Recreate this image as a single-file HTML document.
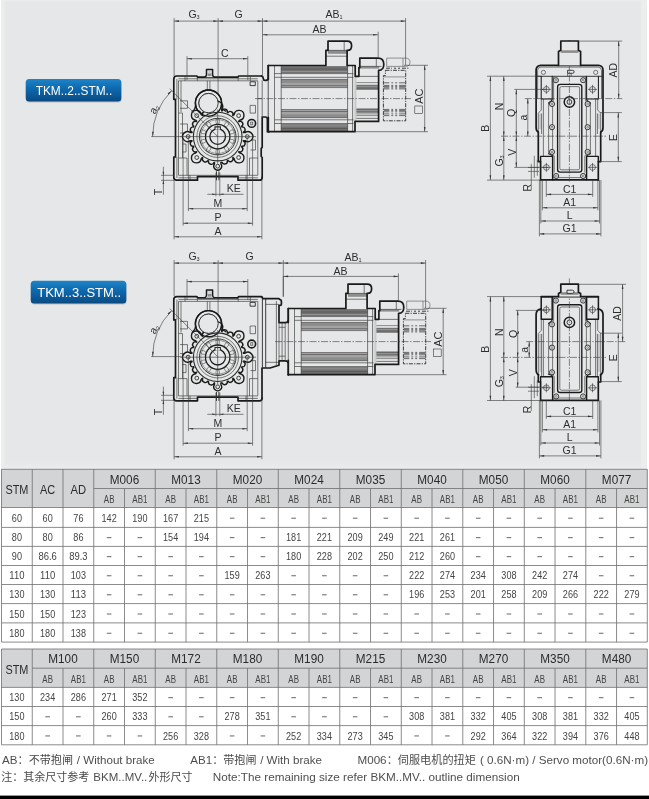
<!DOCTYPE html>
<html><head><meta charset="utf-8"><title>TKM..STM.. dimensions</title>
<style>
html,body{margin:0;padding:0;background:#fff}
body{width:649px;height:799px;overflow:hidden;position:relative;font-family:"Liberation Sans",sans-serif}
svg{position:absolute;left:0;top:0;display:block;will-change:transform}
text{font-family:"Liberation Sans",sans-serif}
.lb{fill:#2e2e2e}
.n{fill:none;stroke:#383838;stroke-width:.65}
.m{fill:none;stroke:#2a2a2a;stroke-width:.9}
.k{fill:none;stroke:#1a1a1a;stroke-width:1.7;stroke-linejoin:round;stroke-linecap:round}
.kf{fill:#e6e7e8;stroke:#1a1a1a;stroke-width:1.4;stroke-linejoin:round}
.nf{fill:#e6e7e8;stroke:#3c3c3c;stroke-width:.6}
.mf{fill:#e6e7e8;stroke:#2a2a2a;stroke-width:.9}
.d{fill:none;stroke:#383838;stroke-width:.6}
.c{fill:none;stroke:#3c3c3c;stroke-width:.6;stroke-dasharray:7 1.5 1.5 1.5}
.ar{fill:#333;stroke:none}
.dk{fill:none;stroke:#333;stroke-width:.95;stroke-dasharray:4 1.2 1.2 1.2}
.dn{fill:none;stroke:#555;stroke-width:.6}
.tg{fill:none;stroke:#6e6e6e;stroke-width:.8}
.tt{fill:#444}
.th{fill:#2b2b2b}
.cj{fill:#4a4a4a;stroke:none;font-family:"Liberation Sans","Noto Sans CJK SC",sans-serif}
.ft{fill:#4e4e4e}
</style></head>
<body>
<svg width="649" height="799" viewBox="0 0 649 799">
<defs>
<linearGradient id="bg1" x1="0" y1="0" x2="0" y2="1"><stop offset="0" stop-color="#1e84c8"/><stop offset=".45" stop-color="#0d68ad"/><stop offset="1" stop-color="#094a82"/></linearGradient>
<linearGradient id="pb" x1="0" y1="0" x2="0" y2="1"><stop offset="0" stop-color="#e6e7e8"/><stop offset="1" stop-color="#ecedee"/></linearGradient>
<linearGradient id="fin" x1="0" y1="0" x2="0" y2="1"><stop offset="0" stop-color="#777"/><stop offset="1" stop-color="#999"/></linearGradient>
</defs>
<rect class="bgp" x="1.3" y="0" width="645.6" height="469.4" />
<style>.bgp{fill:#e6e7e8}</style>
<rect class="bgl" x="641" y="0" width="5.9" height="469.4" />
<style>.bgl{fill:#eceded}</style>
<rect class="bgl" x="1.3" y="0" width="3.2" height="469.4" />
<rect x="4.5" y="462" width="636.5" height="7.4" fill="url(#pb)"/>
<rect class="bgl" x="1.3" y="0" width="645.6" height="1.3" />
<rect x="26" y="79.9" width="95.6" height="22.6" rx="3.5" fill="#9aa3ab" opacity=".55"/>
<rect x="25.7" y="78.9" width="95.6" height="22.6" rx="3.5" fill="url(#bg1)"/>
<text x="35.7" y="95.2" font-size="12.3" fill="#fff" textLength="76.5" lengthAdjust="spacingAndGlyphs">TKM..2..STM..</text>
<rect x="31" y="281.7" width="95.6" height="22.8" rx="3.5" fill="#9aa3ab" opacity=".55"/>
<rect x="30.7" y="280.7" width="95.6" height="22.8" rx="3.5" fill="url(#bg1)"/>
<text x="37.2" y="296.9" font-size="13.2" fill="#fff" textLength="84" lengthAdjust="spacingAndGlyphs">TKM..3..STM..</text>
<g transform="translate(0 0)">
<path class="n" d="M178.5 80.8H257.8V175.3H178.5Z" />
<path class="n" d="M176.9 79V99.3M176.9 157V178" />
<path class="n" d="M178.5 113H182.5V158" />
<path class="n" d="M178.5 158H187V175.3" />
<path class="n" d="M257.8 158H249.5V175.3" />
<path class="n" d="M181 80.8L181 112"/>
<path class="n" d="M180 100.8H187.5V108.3H180" />
<path class="n" d="M180 124H187.5V133H180" />
<path class="n" d="M182.3 144H186V152H182.3" />
<path class="n" d="M250.1 105.4H255.5V113.1H250.1Z" />
<path class="m" d="M250.1 81.8H255.3V85.6H250.1Z" />
<path class="n" d="M250.5 140H255.5V150H250.5" />
<path class="n" d="M185 76.2V80.8M197.3 77V80.8M238.2 77V80.8M250.3 76.2V80.8" />
<path class="n" d="M178.5 78.8L257.8 78.8"/>
<path class="n" d="M207.3 80.8V90.5M209.9 80.8V90.5" />
<path class="n" d="M178.5 177.8H197.5M238 177.8H257.8" />
<path class="n" d="M190 175.3V180.3M246 175.3V180.3" />
<path class="k" d="M261.6 76H238.7L237.7 77.2H197.8L196.8 76H176.8A3 3 0 0 0 173.8 79V99.3H175.5V157H173.8V177.3A2.9 2.9 0 0 0 176.7 180.2H197.5V176.6H238V180.2H259.4A2.8 2.8 0 0 0 262.2 177.4" />
<path class="kf" d="M204.6 77.2Q206.3 76.6 206.5 74.6V69.4H212.6V74.6Q212.8 76.6 214.4 77.2" style="stroke-width:1.5"/>
<rect class="lg" x="208.5" y="70.9" width="2.3" height="2.1" />
<rect class="gb" x="207.6" y="73.4" width="4" height="2.6" />
<circle class="kf" cx="251.7" cy="123.4" r="3.9" style="stroke-width:1.6"/>
<path class="n" d="M250.7 122H252.7V124.8H250.7Z" />
<circle class="kf" cx="208.5" cy="103.1" r="13.1" />
<circle class="mf" cx="208.5" cy="103.1" r="9.7" />
<path class="kf" d="M243.39 132.6L245.07 132.6A4.9 4.9 0 1 1 245.07 140.6L243.39 140.6L243.33 140.97A2.73 2.73 0 0 1 241.86 146.21L241.58 146.89A2.73 2.73 0 0 1 238.91 151.64L238.69 151.94L239.88 153.12A4.9 4.9 0 1 1 234.22 158.78L233.04 157.59L232.74 157.81A2.73 2.73 0 0 1 227.99 160.48L227.31 160.76A2.73 2.73 0 0 1 222.07 162.23L220.9 162.4L220.9 163.97A3.9 3.9 0 1 1 214.5 163.97L214.5 162.4L214.11 162.35A2.91 2.91 0 0 1 208.49 160.92L207.76 160.62A2.91 2.91 0 0 1 202.68 157.83L202.36 157.59L201.18 158.78A4.9 4.9 0 1 1 195.52 153.12L196.71 151.94L196.49 151.64A2.73 2.73 0 0 1 193.82 146.89L193.54 146.21A2.73 2.73 0 0 1 192.07 140.97L192.01 140.6L190.33 140.6A4.9 4.9 0 1 1 190.33 132.6L192.01 132.6L192.07 132.23A2.73 2.73 0 0 1 193.54 126.99L193.82 126.31A2.73 2.73 0 0 1 196.49 121.56L196.71 121.26L195.52 120.08A4.9 4.9 0 1 1 201.18 114.42L202.36 115.61L202.66 115.39A2.73 2.73 0 0 1 207.41 112.72L208.09 112.44A2.73 2.73 0 0 1 213.33 110.97L213.7 110.91L213.7 109.23A4.9 4.9 0 1 1 221.7 109.23L221.7 110.91L222.07 110.97A2.73 2.73 0 0 1 227.31 112.44L227.99 112.72A2.73 2.73 0 0 1 232.74 115.39L233.04 115.61L234.22 114.42A4.9 4.9 0 1 1 239.88 120.08L238.69 121.26L238.91 121.56A2.73 2.73 0 0 1 241.58 126.31L241.86 126.99A2.73 2.73 0 0 1 243.33 132.23Z" style="stroke-width:1.4"/>
<circle class="mf" cx="208.5" cy="103.1" r="9.7" />
<circle class="k" cx="208.5" cy="103.1" r="13.1" style="stroke-width:1.4"/>
<path class="k" d="M195.6 105.4Q195.4 109.5 192.2 111.6M221.4 105.4Q221.8 109.2 225.6 111.2" style="stroke-width:1.2"/>
<circle class="m" cx="247.3" cy="136.6" r="1.9" />
<circle class="m" cx="238.63" cy="157.53" r="1.9" />
<circle class="m" cx="217.7" cy="166.2" r="1.9" />
<circle class="m" cx="196.77" cy="157.53" r="1.9" />
<circle class="m" cx="188.1" cy="136.6" r="1.9" />
<circle class="m" cx="196.77" cy="115.67" r="1.9" />
<circle class="m" cx="238.63" cy="115.67" r="1.9" />
<circle class="m" cx="217.7" cy="136.6" r="24.3" style="stroke-width:1.1"/>
<circle class="n" cx="217.7" cy="136.6" r="20.8" />
<circle class="m" cx="217.7" cy="136.6" r="18.3" />
<circle class="n" cx="217.7" cy="136.6" r="16.9" style="stroke-width:.45"/>
<circle class="k" cx="217.7" cy="136.6" r="12.2" style="stroke-width:1.3"/>
<circle class="k" cx="217.7" cy="136.6" r="7.8" style="stroke-width:1.3"/>
<ellipse class="n" cx="232.2" cy="141.31" rx="1.8" ry="3.1" transform="rotate(108 232.2 141.31)" style="stroke-width:.5"/>
<ellipse class="n" cx="226.66" cy="148.94" rx="1.8" ry="3.1" transform="rotate(144 226.66 148.94)" style="stroke-width:.5"/>
<ellipse class="n" cx="217.7" cy="151.85" rx="1.8" ry="3.1" transform="rotate(180 217.7 151.85)" style="stroke-width:.5"/>
<ellipse class="n" cx="208.74" cy="148.94" rx="1.8" ry="3.1" transform="rotate(216 208.74 148.94)" style="stroke-width:.5"/>
<ellipse class="n" cx="203.2" cy="141.31" rx="1.8" ry="3.1" transform="rotate(252 203.2 141.31)" style="stroke-width:.5"/>
<ellipse class="n" cx="203.2" cy="131.89" rx="1.8" ry="3.1" transform="rotate(288 203.2 131.89)" style="stroke-width:.5"/>
<ellipse class="n" cx="208.74" cy="124.26" rx="1.8" ry="3.1" transform="rotate(324 208.74 124.26)" style="stroke-width:.5"/>
<ellipse class="n" cx="217.7" cy="121.35" rx="1.8" ry="3.1" transform="rotate(360 217.7 121.35)" style="stroke-width:.5"/>
<ellipse class="n" cx="226.66" cy="124.26" rx="1.8" ry="3.1" transform="rotate(396 226.66 124.26)" style="stroke-width:.5"/>
<ellipse class="n" cx="232.2" cy="131.89" rx="1.8" ry="3.1" transform="rotate(432 232.2 131.89)" style="stroke-width:.5"/>
<path class="mf" d="M215 129.6V126.9H220.4V129.6" style="stroke-width:1.1"/>
<path class="n" d="M180 136.6L256 136.6"/>
<path class="n" d="M217.7 109.6L217.7 163.6"/>
<path class="m" d="M216.5 171.4V180.3M218.9 171.4V180.3" />
</g>
<path class="k" d="M261.6 76.2Q263.2 76.4 263.3 78.6Q263.4 80.3 265 80.3H266Q268.3 80.3 268.3 78V65.5" />
<path class="k" d="M262.2 177.5V157.5L261.2 156.5V148.3L262.2 147.3V117H265.2Q267.4 117 267.4 119.2V131.7H269" />
<path class="n" d="M262.2 80.3V117M268.3 80.3V117" />
<path class="n" d="M257.8 98.6L262 98.6"/>
<g transform="translate(0 0)">
<style>.fb{fill:#8a8a8a;stroke:none}.fl{stroke:#4a4a4a;stroke-width:.5;fill:none}.gb{fill:#8d8d8d;stroke:none}.lg{fill:#c9cacb;stroke:none}</style>
<rect class="nf" x="268.3" y="65.3" width="86.5" height="66.4" style="stroke:none"/>
<style>.f1{fill:#727272;stroke:none}.f2{fill:#a2a2a2;stroke:none}.f3{fill:#8c8c8c;stroke:none}.fl{stroke:#4a4a4a;stroke-width:.6;fill:none}.fw{stroke:#b9b9b9;stroke-width:.5;fill:none}</style>
<rect class="f1" x="281.2" y="66.1" width="66.4" height="7.1" />
<rect class="f1" x="281.2" y="124.1" width="66.4" height="7.3" />
<path class="fw" d="M281.2 71.6L347.6 71.6"/>
<path class="fw" d="M281.2 125.8L347.6 125.8"/>
<path class="fl" d="M281.2 69L347.6 69"/>
<path class="fl" d="M281.2 128.6L347.6 128.6"/>
<rect class="f2" x="281.2" y="79.3" width="66.4" height="8.4" />
<rect class="f2" x="281.2" y="109.4" width="66.4" height="8.4" />
<rect class="f3" x="281.2" y="79.6" width="66.4" height="3.2" />
<rect class="f3" x="281.2" y="114.4" width="66.4" height="3.2" />
<path class="fl" d="M281.2 79.4L347.6 79.4"/>
<path class="fl" d="M281.2 85.7L347.6 85.7"/>
<path class="fl" d="M281.2 87.6L347.6 87.6"/>
<path class="fl" d="M281.2 109.5L347.6 109.5"/>
<path class="fl" d="M281.2 111.5L347.6 111.5"/>
<path class="fl" d="M281.2 117.7L347.6 117.7"/>
<path class="n" d="M274.5 73.6L353.4 73.6"/>
<path class="n" d="M274.5 77.3L353.4 77.3"/>
<path class="n" d="M274.5 119.8L353.4 119.8"/>
<path class="n" d="M274.5 123.5L353.4 123.5"/>
<path class="n" d="M274.5 65.3L274.5 131.7"/>
<path class="n" d="M281.2 65.3L281.2 131.7"/>
<path class="n" d="M347.6 65.3L347.6 131.7"/>
<path class="n" d="M352.6 65.3L352.6 131.7"/>
<rect class="nf" x="354.8" y="70" width="24" height="51.5" style="stroke:none"/>
<rect class="lg" x="354.4" y="76.7" width="2" height="44.8" />
<rect class="f1" x="356.4" y="84.8" width="22" height="4.5" />
<rect class="f1" x="356.4" y="108.9" width="22" height="3.9" />
<path class="fl" d="M356.4 82.6L378.4 82.6"/>
<path class="fl" d="M356.4 89.3L378.4 89.3"/>
<path class="fl" d="M356.4 108.9L378.4 108.9"/>
<path class="fl" d="M356.4 113.9L378.4 113.9"/>
<path class="fl" d="M356.4 115.6L378.4 115.6"/>
<path class="fw" d="M356.4 86.6L378.4 86.6"/>
<path class="fw" d="M356.4 110.6L378.4 110.6"/>
<path class="n" d="M358.6 76.4L378.4 76.4"/>
<path class="n" d="M356.4 118.4L378.4 118.4"/>
<rect class="gb" x="328" y="50.4" width="19.1" height="3.4" />
<path class="n" d="M325.9 56.2L347.1 56.2"/>
<path class="n" d="M344.2 41.1L344.2 50.4"/>
<path class="n" d="M328 50.4L347.1 50.4"/>
<rect class="gb" x="359.8" y="66.4" width="19.4" height="2.2" />
<path class="n" d="M376.3 58.1L376.3 66.4"/>
<path class="n" d="M359.8 66.4L381.5 66.4"/>
<path class="k" d="M268.3 65.5H325.9V50.4H328V41.1H347.3Q351.6 41.1 351.6 45.7Q351.6 50.4 347.3 50.4H347.1V65.5H355.2V76.3H358.9V67.6H359.8V58.1H378Q383.8 58.1 383.8 64.2Q383.8 70.3 378.6 70.3V121.4H355V131.7H268.3" />
<path class="k" d="M268.3 65.5V79.6M268.3 117.3V131.7" />
<path class="n" d="M268.3 79.6L268.3 117.3"/>
<path class="dk" d="M385.4 70.3H405.7V120.8H383.4V75.6H385.4V70.3" />
<path class="dn" d="M383.6 76.9L405.6 76.9"/>
<style>.fd{stroke:#6a6a6a;stroke-width:1.0;fill:none;stroke-dasharray:5.5 2 1.9 2 2 1.9 6.6 0}.fd2{stroke:#8a8a8a}</style>
<path class="fd" d="M383.8 82.8L405.7 82.8"/>
<path class="fd" d="M383.8 85.4L405.7 85.4"/>
<path class="fd" d="M383.8 86.6L405.7 86.6"/>
<path class="fd" d="M383.8 87.8L405.7 87.8"/>
<path class="fd" d="M383.8 88.9L405.7 88.9"/>
<path class="fd" d="M383.8 109.4L405.7 109.4"/>
<path class="fd" d="M383.8 110.6L405.7 110.6"/>
<path class="fd" d="M383.8 111.8L405.7 111.8"/>
<path class="fd" d="M383.8 113.9L405.7 113.9"/>
<path class="fd" d="M383.8 115.6L405.7 115.6"/>
<path class="dn" d="M386.7 66.4V58.1H405.6Q410 58.1 410 62.2Q410 66.4 405.6 66.4Z" />
<path class="dn" d="M403 58.1L403 66.4"/>
<path class="dk" d="M386 68.2H392M394 68.2H396M398 68.2H400M402 68.2H409" />
<path class="c" d="M255 98.6L411 98.6"/>
</g>
<path class="d" d="M174.1 18.1L174.1 76"/>
<path class="d" d="M218.1 18.1L218.1 94"/>
<path class="d" d="M262.5 18.1L262.5 76.5"/>
<path class="d" d="M174.1 21.1L218.1 21.1"/>
<path class="ar" d="M174.1 21.1L178.9 20.3L178.9 21.9Z"/>
<path class="ar" d="M218.1 21.1L213.3 21.9L213.3 20.3Z"/>
<path class="d" d="M218.1 21.1L262.5 21.1"/>
<path class="ar" d="M218.1 21.1L222.9 20.3L222.9 21.9Z"/>
<path class="ar" d="M262.5 21.1L257.7 21.9L257.7 20.3Z"/>
<text class="lb" x="194" y="17.8" font-size="10.5" text-anchor="middle" >G<tspan font-size="5.5" dy="1.2">3</tspan></text>
<text class="lb" x="238.6" y="17.8" font-size="10.5" text-anchor="middle" >G</text>
<path class="d" d="M262.5 21.1L405.6 21.1"/>
<path class="ar" d="M262.5 21.1L267.3 20.3L267.3 21.9Z"/>
<path class="ar" d="M405.6 21.1L400.8 21.9L400.8 20.3Z"/>
<path class="d" d="M262.5 34.8L377.9 34.8"/>
<path class="ar" d="M262.5 34.8L267.3 34L267.3 35.6Z"/>
<path class="ar" d="M377.9 34.8L373.1 35.6L373.1 34Z"/>
<path class="d" d="M187 56.2L187 80"/>
<path class="d" d="M247.8 56.2L247.8 80"/>
<path class="d" d="M187 58.7L247.8 58.7"/>
<path class="ar" d="M187 58.7L191.8 57.9L191.8 59.5Z"/>
<path class="ar" d="M247.8 58.7L243 59.5L243 57.9Z"/>
<text class="lb" x="224.7" y="57.1" font-size="10.5" text-anchor="middle" >C</text>
<path class="d" d="M152.7 136.6A65.0 65.0 0 0 1 171.74 90.64" />
<path class="ar" d="M152.7 136.6L152.07 131.78L153.67 131.83Z"/>
<path class="ar" d="M171.74 90.64L168.71 94.44L167.64 93.26Z"/>
<path class="d" d="M151.2 136.6L181 136.6"/>
<path class="d" d="M169.74 88.64L217.7 136.6"/>
<text class="lb" transform="translate(157.2 110.8) rotate(-62)" font-size="10.5" text-anchor="middle" >a<tspan font-size="5.5" dy="1.2">2</tspan></text>
<path class="d" d="M161 175.3L174 175.3"/>
<path class="d" d="M161 180.3L174 180.3"/>
<path class="d" d="M163.4 166.7L163.4 194.7"/>
<path class="ar" d="M163.4 175.3L162.6 171.7L164.2 171.7Z"/>
<path class="ar" d="M163.4 180.3L164.2 183.9L162.6 183.9Z"/>
<text class="lb" transform="translate(162.2 192) rotate(-90)" font-size="10.5" text-anchor="middle" >T</text>
<path class="d" d="M215.9 172.6L215.9 196.3"/>
<path class="d" d="M219.8 172.6L219.8 196.3"/>
<path class="d" d="M207.3 194.3L243.5 194.3"/>
<path class="ar" d="M215.9 194.3L212.3 195.1L212.3 193.5Z"/>
<path class="ar" d="M219.8 194.3L223.4 193.5L223.4 195.1Z"/>
<text class="lb" x="233.8" y="191.9" font-size="10.5" text-anchor="middle" >KE</text>
<path class="d" d="M188.4 136.6L188.4 211.2"/>
<path class="d" d="M247.2 136.6L247.2 211.2"/>
<path class="d" d="M188.4 208.7L247.2 208.7"/>
<path class="ar" d="M188.4 208.7L193.2 207.9L193.2 209.5Z"/>
<path class="ar" d="M247.2 208.7L242.4 209.5L242.4 207.9Z"/>
<text class="lb" x="217.9" y="207.1" font-size="10.5" text-anchor="middle" >M</text>
<path class="d" d="M183.1 138.6L183.1 225.7"/>
<path class="d" d="M252.6 138.6L252.6 225.7"/>
<path class="d" d="M183.1 223.2L252.6 223.2"/>
<path class="ar" d="M183.1 223.2L187.9 222.4L187.9 224Z"/>
<path class="ar" d="M252.6 223.2L247.8 224L247.8 222.4Z"/>
<text class="lb" x="217.9" y="221.4" font-size="10.5" text-anchor="middle" >P</text>
<path class="d" d="M174.1 180L174.1 239.3"/>
<path class="d" d="M261.9 180L261.9 239.3"/>
<path class="d" d="M174.1 236.8L261.9 236.8"/>
<path class="ar" d="M174.1 236.8L178.9 236L178.9 237.6Z"/>
<path class="ar" d="M261.9 236.8L257.1 237.6L257.1 236Z"/>
<text class="lb" x="217.9" y="235.2" font-size="10.5" text-anchor="middle" >A</text>
<path class="d" d="M405.6 18L405.6 65"/>
<path class="d" d="M378.2 31.8L378.2 57.5"/>
<text class="lb" x="334" y="18.2" font-size="10.5" text-anchor="middle" >AB<tspan font-size="5.5" dy="1.2">1</tspan></text>
<text class="lb" x="319.6" y="33.3" font-size="10.5" text-anchor="middle" >AB</text>
<path class="d" d="M404 65.3L428 65.3"/>
<path class="d" d="M356 131.7L428 131.7"/>
<path class="d" d="M424.7 65.3L424.7 131.7"/>
<path class="ar" d="M424.7 65.3L425.5 70.1L423.9 70.1Z"/>
<path class="ar" d="M424.7 131.7L423.9 126.9L425.5 126.9Z"/>
<text class="lb" transform="translate(423.2 96.2) rotate(-90)" font-size="11" text-anchor="middle" >AC</text>
<rect class="d" x="414.8" y="106" width="7.9" height="7.5" />
<g transform="translate(0 220.6)">
<path class="n" d="M178.5 80.8H257.8V175.3H178.5Z" />
<path class="n" d="M176.9 79V99.3M176.9 157V178" />
<path class="n" d="M178.5 113H182.5V158" />
<path class="n" d="M178.5 158H187V175.3" />
<path class="n" d="M257.8 158H249.5V175.3" />
<path class="n" d="M181 80.8L181 112"/>
<path class="n" d="M180 100.8H187.5V108.3H180" />
<path class="n" d="M180 124H187.5V133H180" />
<path class="n" d="M182.3 144H186V152H182.3" />
<path class="n" d="M250.1 105.4H255.5V113.1H250.1Z" />
<path class="m" d="M250.1 81.8H255.3V85.6H250.1Z" />
<path class="n" d="M250.5 140H255.5V150H250.5" />
<path class="n" d="M185 76.2V80.8M197.3 77V80.8M238.2 77V80.8M250.3 76.2V80.8" />
<path class="n" d="M178.5 78.8L257.8 78.8"/>
<path class="n" d="M207.3 80.8V90.5M209.9 80.8V90.5" />
<path class="n" d="M178.5 177.8H197.5M238 177.8H257.8" />
<path class="n" d="M190 175.3V180.3M246 175.3V180.3" />
<path class="k" d="M261.6 76H238.7L237.7 77.2H197.8L196.8 76H176.8A3 3 0 0 0 173.8 79V99.3H175.5V157H173.8V177.3A2.9 2.9 0 0 0 176.7 180.2H197.5V176.6H238V180.2H259.4A2.8 2.8 0 0 0 262.2 177.4" />
<path class="kf" d="M204.6 77.2Q206.3 76.6 206.5 74.6V69.4H212.6V74.6Q212.8 76.6 214.4 77.2" style="stroke-width:1.5"/>
<rect class="lg" x="208.5" y="70.9" width="2.3" height="2.1" />
<rect class="gb" x="207.6" y="73.4" width="4" height="2.6" />
<circle class="kf" cx="251.7" cy="123.4" r="3.9" style="stroke-width:1.6"/>
<path class="n" d="M250.7 122H252.7V124.8H250.7Z" />
<circle class="kf" cx="208.5" cy="103.1" r="13.1" />
<circle class="mf" cx="208.5" cy="103.1" r="9.7" />
<path class="kf" d="M243.39 132.6L245.07 132.6A4.9 4.9 0 1 1 245.07 140.6L243.39 140.6L243.33 140.97A2.73 2.73 0 0 1 241.86 146.21L241.58 146.89A2.73 2.73 0 0 1 238.91 151.64L238.69 151.94L239.88 153.12A4.9 4.9 0 1 1 234.22 158.78L233.04 157.59L232.74 157.81A2.73 2.73 0 0 1 227.99 160.48L227.31 160.76A2.73 2.73 0 0 1 222.07 162.23L220.9 162.4L220.9 163.97A3.9 3.9 0 1 1 214.5 163.97L214.5 162.4L214.11 162.35A2.91 2.91 0 0 1 208.49 160.92L207.76 160.62A2.91 2.91 0 0 1 202.68 157.83L202.36 157.59L201.18 158.78A4.9 4.9 0 1 1 195.52 153.12L196.71 151.94L196.49 151.64A2.73 2.73 0 0 1 193.82 146.89L193.54 146.21A2.73 2.73 0 0 1 192.07 140.97L192.01 140.6L190.33 140.6A4.9 4.9 0 1 1 190.33 132.6L192.01 132.6L192.07 132.23A2.73 2.73 0 0 1 193.54 126.99L193.82 126.31A2.73 2.73 0 0 1 196.49 121.56L196.71 121.26L195.52 120.08A4.9 4.9 0 1 1 201.18 114.42L202.36 115.61L202.66 115.39A2.73 2.73 0 0 1 207.41 112.72L208.09 112.44A2.73 2.73 0 0 1 213.33 110.97L213.7 110.91L213.7 109.23A4.9 4.9 0 1 1 221.7 109.23L221.7 110.91L222.07 110.97A2.73 2.73 0 0 1 227.31 112.44L227.99 112.72A2.73 2.73 0 0 1 232.74 115.39L233.04 115.61L234.22 114.42A4.9 4.9 0 1 1 239.88 120.08L238.69 121.26L238.91 121.56A2.73 2.73 0 0 1 241.58 126.31L241.86 126.99A2.73 2.73 0 0 1 243.33 132.23Z" style="stroke-width:1.4"/>
<circle class="mf" cx="208.5" cy="103.1" r="9.7" />
<circle class="k" cx="208.5" cy="103.1" r="13.1" style="stroke-width:1.4"/>
<path class="k" d="M195.6 105.4Q195.4 109.5 192.2 111.6M221.4 105.4Q221.8 109.2 225.6 111.2" style="stroke-width:1.2"/>
<circle class="m" cx="247.3" cy="136.6" r="1.9" />
<circle class="m" cx="238.63" cy="157.53" r="1.9" />
<circle class="m" cx="217.7" cy="166.2" r="1.9" />
<circle class="m" cx="196.77" cy="157.53" r="1.9" />
<circle class="m" cx="188.1" cy="136.6" r="1.9" />
<circle class="m" cx="196.77" cy="115.67" r="1.9" />
<circle class="m" cx="238.63" cy="115.67" r="1.9" />
<circle class="m" cx="217.7" cy="136.6" r="24.3" style="stroke-width:1.1"/>
<circle class="n" cx="217.7" cy="136.6" r="20.8" />
<circle class="m" cx="217.7" cy="136.6" r="18.3" />
<circle class="n" cx="217.7" cy="136.6" r="16.9" style="stroke-width:.45"/>
<circle class="k" cx="217.7" cy="136.6" r="12.2" style="stroke-width:1.3"/>
<circle class="k" cx="217.7" cy="136.6" r="7.8" style="stroke-width:1.3"/>
<ellipse class="n" cx="232.2" cy="141.31" rx="1.8" ry="3.1" transform="rotate(108 232.2 141.31)" style="stroke-width:.5"/>
<ellipse class="n" cx="226.66" cy="148.94" rx="1.8" ry="3.1" transform="rotate(144 226.66 148.94)" style="stroke-width:.5"/>
<ellipse class="n" cx="217.7" cy="151.85" rx="1.8" ry="3.1" transform="rotate(180 217.7 151.85)" style="stroke-width:.5"/>
<ellipse class="n" cx="208.74" cy="148.94" rx="1.8" ry="3.1" transform="rotate(216 208.74 148.94)" style="stroke-width:.5"/>
<ellipse class="n" cx="203.2" cy="141.31" rx="1.8" ry="3.1" transform="rotate(252 203.2 141.31)" style="stroke-width:.5"/>
<ellipse class="n" cx="203.2" cy="131.89" rx="1.8" ry="3.1" transform="rotate(288 203.2 131.89)" style="stroke-width:.5"/>
<ellipse class="n" cx="208.74" cy="124.26" rx="1.8" ry="3.1" transform="rotate(324 208.74 124.26)" style="stroke-width:.5"/>
<ellipse class="n" cx="217.7" cy="121.35" rx="1.8" ry="3.1" transform="rotate(360 217.7 121.35)" style="stroke-width:.5"/>
<ellipse class="n" cx="226.66" cy="124.26" rx="1.8" ry="3.1" transform="rotate(396 226.66 124.26)" style="stroke-width:.5"/>
<ellipse class="n" cx="232.2" cy="131.89" rx="1.8" ry="3.1" transform="rotate(432 232.2 131.89)" style="stroke-width:.5"/>
<path class="mf" d="M215 129.6V126.9H220.4V129.6" style="stroke-width:1.1"/>
<path class="n" d="M180 136.6L256 136.6"/>
<path class="n" d="M217.7 109.6L217.7 163.6"/>
<path class="m" d="M216.5 171.4V180.3M218.9 171.4V180.3" />
</g>
<g transform="translate(0 220.6)">
<path class="k" d="M261.6 76.2Q262.6 76.4 262.6 78H278.6Q279.6 78 280 79Q281.4 79.2 281.4 80.6V83.6Q281.4 84.8 280.2 84.8H279V102H285.3Q288.4 102 288.4 99.1V87.9" />
<path class="k" d="M262 177.5V147.4H270L279 144.6V140.3H285.3Q288.4 140.3 288.4 143.2V154.2" />
<path class="m" d="M262.4 78V147.2" />
<path class="m" d="M265.7 78V147.2" />
<path class="n" d="M276.4 80.5V145" />
<path class="n" d="M265.7 83.8H279M265.7 141.7H279" />
<path class="n" d="M279 102V140.3" />
<path class="n" d="M282.1 102V140.3M285.2 102V140.3" />
<path class="n" d="M279 106.7H285.2M279 135.6H285.2" />
</g>
<g transform="translate(20 243)">
<style>.fb{fill:#8a8a8a;stroke:none}.fl{stroke:#4a4a4a;stroke-width:.5;fill:none}.gb{fill:#8d8d8d;stroke:none}.lg{fill:#c9cacb;stroke:none}</style>
<rect class="nf" x="268.3" y="65.3" width="86.5" height="66.4" style="stroke:none"/>
<style>.f1{fill:#727272;stroke:none}.f2{fill:#a2a2a2;stroke:none}.f3{fill:#8c8c8c;stroke:none}.fl{stroke:#4a4a4a;stroke-width:.6;fill:none}.fw{stroke:#b9b9b9;stroke-width:.5;fill:none}</style>
<rect class="f1" x="281.2" y="66.1" width="66.4" height="7.1" />
<rect class="f1" x="281.2" y="124.1" width="66.4" height="7.3" />
<path class="fw" d="M281.2 71.6L347.6 71.6"/>
<path class="fw" d="M281.2 125.8L347.6 125.8"/>
<path class="fl" d="M281.2 69L347.6 69"/>
<path class="fl" d="M281.2 128.6L347.6 128.6"/>
<rect class="f2" x="281.2" y="79.3" width="66.4" height="8.4" />
<rect class="f2" x="281.2" y="109.4" width="66.4" height="8.4" />
<rect class="f3" x="281.2" y="79.6" width="66.4" height="3.2" />
<rect class="f3" x="281.2" y="114.4" width="66.4" height="3.2" />
<path class="fl" d="M281.2 79.4L347.6 79.4"/>
<path class="fl" d="M281.2 85.7L347.6 85.7"/>
<path class="fl" d="M281.2 87.6L347.6 87.6"/>
<path class="fl" d="M281.2 109.5L347.6 109.5"/>
<path class="fl" d="M281.2 111.5L347.6 111.5"/>
<path class="fl" d="M281.2 117.7L347.6 117.7"/>
<path class="n" d="M274.5 73.6L353.4 73.6"/>
<path class="n" d="M274.5 77.3L353.4 77.3"/>
<path class="n" d="M274.5 119.8L353.4 119.8"/>
<path class="n" d="M274.5 123.5L353.4 123.5"/>
<path class="n" d="M274.5 65.3L274.5 131.7"/>
<path class="n" d="M281.2 65.3L281.2 131.7"/>
<path class="n" d="M347.6 65.3L347.6 131.7"/>
<path class="n" d="M352.6 65.3L352.6 131.7"/>
<rect class="nf" x="354.8" y="70" width="24" height="51.5" style="stroke:none"/>
<rect class="lg" x="354.4" y="76.7" width="2" height="44.8" />
<rect class="f1" x="356.4" y="84.8" width="22" height="4.5" />
<rect class="f1" x="356.4" y="108.9" width="22" height="3.9" />
<path class="fl" d="M356.4 82.6L378.4 82.6"/>
<path class="fl" d="M356.4 89.3L378.4 89.3"/>
<path class="fl" d="M356.4 108.9L378.4 108.9"/>
<path class="fl" d="M356.4 113.9L378.4 113.9"/>
<path class="fl" d="M356.4 115.6L378.4 115.6"/>
<path class="fw" d="M356.4 86.6L378.4 86.6"/>
<path class="fw" d="M356.4 110.6L378.4 110.6"/>
<path class="n" d="M358.6 76.4L378.4 76.4"/>
<path class="n" d="M356.4 118.4L378.4 118.4"/>
<rect class="gb" x="328" y="50.4" width="19.1" height="3.4" />
<path class="n" d="M325.9 56.2L347.1 56.2"/>
<path class="n" d="M344.2 41.1L344.2 50.4"/>
<path class="n" d="M328 50.4L347.1 50.4"/>
<rect class="gb" x="359.8" y="66.4" width="19.4" height="2.2" />
<path class="n" d="M376.3 58.1L376.3 66.4"/>
<path class="n" d="M359.8 66.4L381.5 66.4"/>
<path class="k" d="M268.3 65.5H325.9V50.4H328V41.1H347.3Q351.6 41.1 351.6 45.7Q351.6 50.4 347.3 50.4H347.1V65.5H355.2V76.3H358.9V67.6H359.8V58.1H378Q383.8 58.1 383.8 64.2Q383.8 70.3 378.6 70.3V121.4H355V131.7H268.3" />
<path class="k" d="M268.3 65.5V79.6M268.3 117.3V131.7" />
<path class="n" d="M268.3 79.6L268.3 117.3"/>
<path class="dk" d="M385.4 70.3H405.7V120.8H383.4V75.6H385.4V70.3" />
<path class="dn" d="M383.6 76.9L405.6 76.9"/>
<style>.fd{stroke:#6a6a6a;stroke-width:1.0;fill:none;stroke-dasharray:5.5 2 1.9 2 2 1.9 6.6 0}.fd2{stroke:#8a8a8a}</style>
<path class="fd" d="M383.8 82.8L405.7 82.8"/>
<path class="fd" d="M383.8 85.4L405.7 85.4"/>
<path class="fd" d="M383.8 86.6L405.7 86.6"/>
<path class="fd" d="M383.8 87.8L405.7 87.8"/>
<path class="fd" d="M383.8 88.9L405.7 88.9"/>
<path class="fd" d="M383.8 109.4L405.7 109.4"/>
<path class="fd" d="M383.8 110.6L405.7 110.6"/>
<path class="fd" d="M383.8 111.8L405.7 111.8"/>
<path class="fd" d="M383.8 113.9L405.7 113.9"/>
<path class="fd" d="M383.8 115.6L405.7 115.6"/>
<path class="dn" d="M386.7 66.4V58.1H405.6Q410 58.1 410 62.2Q410 66.4 405.6 66.4Z" />
<path class="dn" d="M403 58.1L403 66.4"/>
<path class="dk" d="M386 68.2H392M394 68.2H396M398 68.2H400M402 68.2H409" />
<path class="c" d="M255 98.6L411 98.6"/>
</g>
<path class="d" d="M174.1 260.1L174.1 296"/>
<path class="d" d="M218.1 260.1L218.1 314"/>
<path class="d" d="M283.3 260.1L283.3 296.5"/>
<path class="d" d="M174.1 263.1L218.1 263.1"/>
<path class="ar" d="M174.1 263.1L178.9 262.3L178.9 263.9Z"/>
<path class="ar" d="M218.1 263.1L213.3 263.9L213.3 262.3Z"/>
<path class="d" d="M218.1 263.1L283.3 263.1"/>
<path class="ar" d="M218.1 263.1L222.9 262.3L222.9 263.9Z"/>
<path class="ar" d="M283.3 263.1L278.5 263.9L278.5 262.3Z"/>
<text class="lb" x="194" y="259.8" font-size="10.5" text-anchor="middle" >G<tspan font-size="5.5" dy="1.2">3</tspan></text>
<text class="lb" x="249.5" y="259.8" font-size="10.5" text-anchor="middle" >G</text>
<path class="d" d="M283.3 263.1L425.6 263.1"/>
<path class="ar" d="M283.3 263.1L288.1 262.3L288.1 263.9Z"/>
<path class="ar" d="M425.6 263.1L420.8 263.9L420.8 262.3Z"/>
<path class="d" d="M283.3 276.4L398.4 276.4"/>
<path class="ar" d="M283.3 276.4L288.1 275.6L288.1 277.2Z"/>
<path class="ar" d="M398.4 276.4L393.6 277.2L393.6 275.6Z"/>
<path class="d" d="M187 279.1L187 300"/>
<path class="d" d="M247.8 279.1L247.8 300"/>
<path class="d" d="M187 281.6L247.8 281.6"/>
<path class="ar" d="M187 281.6L191.8 280.8L191.8 282.4Z"/>
<path class="ar" d="M247.8 281.6L243 282.4L243 280.8Z"/>
<path class="d" d="M152.7 356.6A65.0 65.0 0 0 1 171.74 310.64" />
<path class="ar" d="M152.7 356.6L152.07 351.78L153.67 351.83Z"/>
<path class="ar" d="M171.74 310.64L168.71 314.44L167.64 313.26Z"/>
<path class="d" d="M151.2 356.6L181 356.6"/>
<path class="d" d="M169.74 308.64L217.7 356.6"/>
<text class="lb" transform="translate(157.2 330.8) rotate(-62)" font-size="10.5" text-anchor="middle" >a<tspan font-size="5.5" dy="1.2">2</tspan></text>
<path class="d" d="M161 395.3L174 395.3"/>
<path class="d" d="M161 400.3L174 400.3"/>
<path class="d" d="M163.4 386.7L163.4 414.7"/>
<path class="ar" d="M163.4 395.3L162.6 391.7L164.2 391.7Z"/>
<path class="ar" d="M163.4 400.3L164.2 403.9L162.6 403.9Z"/>
<text class="lb" transform="translate(162.2 412) rotate(-90)" font-size="10.5" text-anchor="middle" >T</text>
<path class="d" d="M215.9 392.6L215.9 416.3"/>
<path class="d" d="M219.8 392.6L219.8 416.3"/>
<path class="d" d="M207.3 414.3L243.5 414.3"/>
<path class="ar" d="M215.9 414.3L212.3 415.1L212.3 413.5Z"/>
<path class="ar" d="M219.8 414.3L223.4 413.5L223.4 415.1Z"/>
<text class="lb" x="233.8" y="411.9" font-size="10.5" text-anchor="middle" >KE</text>
<path class="d" d="M188.4 356.6L188.4 431.2"/>
<path class="d" d="M247.2 356.6L247.2 431.2"/>
<path class="d" d="M188.4 428.7L247.2 428.7"/>
<path class="ar" d="M188.4 428.7L193.2 427.9L193.2 429.5Z"/>
<path class="ar" d="M247.2 428.7L242.4 429.5L242.4 427.9Z"/>
<text class="lb" x="217.9" y="427.1" font-size="10.5" text-anchor="middle" >M</text>
<path class="d" d="M183.1 358.6L183.1 445.7"/>
<path class="d" d="M252.6 358.6L252.6 445.7"/>
<path class="d" d="M183.1 443.2L252.6 443.2"/>
<path class="ar" d="M183.1 443.2L187.9 442.4L187.9 444Z"/>
<path class="ar" d="M252.6 443.2L247.8 444L247.8 442.4Z"/>
<text class="lb" x="217.9" y="441.4" font-size="10.5" text-anchor="middle" >P</text>
<path class="d" d="M174.1 400L174.1 459.3"/>
<path class="d" d="M261.9 400L261.9 459.3"/>
<path class="d" d="M174.1 456.8L261.9 456.8"/>
<path class="ar" d="M174.1 456.8L178.9 456L178.9 457.6Z"/>
<path class="ar" d="M261.9 456.8L257.1 457.6L257.1 456Z"/>
<text class="lb" x="217.9" y="455.2" font-size="10.5" text-anchor="middle" >A</text>
<path class="d" d="M425.6 260L425.6 308"/>
<path class="d" d="M398.4 273.4L398.4 300.5"/>
<text class="lb" x="353" y="260.6" font-size="10.5" text-anchor="middle" >AB<tspan font-size="5.5" dy="1.2">1</tspan></text>
<text class="lb" x="340.6" y="275" font-size="10.5" text-anchor="middle" >AB</text>
<path class="d" d="M283.3 276.4L283.3 297"/>
<path class="d" d="M424 308.3L446.5 308.3"/>
<path class="d" d="M376 374.7L446.5 374.7"/>
<path class="d" d="M443.2 308.3L443.2 374.7"/>
<path class="ar" d="M443.2 308.3L444 313.1L442.4 313.1Z"/>
<path class="ar" d="M443.2 374.7L442.4 369.9L444 369.9Z"/>
<text class="lb" transform="translate(441.7 339.2) rotate(-90)" font-size="11" text-anchor="middle" >AC</text>
<rect class="d" x="433.3" y="349" width="7.9" height="7.5" />
<g transform="translate(0 0)">
<style>.gs{fill:#c4c6c8;stroke:none}</style>
<path class="k" d="M538.3000000000001 132.0Q536.1 131.0 536.1 127.4V69.80000000000001A4.4 4.4 0 0 1 540.5 65.4H598.6A4.4 4.4 0 0 1 603.0 69.80000000000001V127.4Q603.0 131.0 600.8 132.0" />
<path class="n" d="M537.6 99V70.5A3.4 3.4 0 0 1 541.0 67.1H598.1A3.4 3.4 0 0 1 601.5 70.5V99" />
<circle class="n" cx="543.4" cy="72.4" r="2.1" />
<circle class="n" cx="595.7" cy="72.4" r="2.1" />
<path class="m" d="M567.6 70.3H572.6A1.5 1.5 0 0 1 572.6 73.3H567.6Z" />
<path class="n" d="M567.6 73.3V76.3M571.2 73.3V76.3" />
<path class="m" d="M536.1 76.3L603 76.3"/>
<path class="n" d="M541.3 98.9V110L538.3 113.2V132.0" />
<path class="n" d="M597.7 98.9V110L600.7 113.2V132.0" />
<path class="k" d="M538.3 132.0V161.6H540.6V179.9" />
<path class="k" d="M600.7 132.0V161.6H598.3V179.9" />
<rect class="gs" x="539.2" y="113.5" width="2.3" height="15.5" />
<rect class="gs" x="597.5" y="113.5" width="2.3" height="15.5" />
<path class="n" d="M541.6 113.5V134.0M597.4 113.5V134.0" />
<path class="n" d="M543.4 99V156.4M595.6 99V156.4" />
<path class="n" d="M548.6 103V153.8M590.4 103V153.8" />
<path class="k" d="M541.2 76.3V98.9H552.2V76.3" style="stroke-width:1.05"/>
<path class="k" d="M598.4 76.3V98.9H586.6V76.3" style="stroke-width:1.05"/>
<path class="k" d="M552.2 98.9Q552.2 100.5 550.5 101.5L548.6 103M586.6 98.9Q586.6 100.5 588.3 101.5L590.4 103" style="stroke-width:1.2"/>
<path class="n" d="M553.6 76.3V99.5Q553.6 101 552.6 102V153Q552.6 155 554.2 156V172.5M585.4 76.3V99.5Q585.4 101 586.4 102V153Q586.4 155 584.8 156V172.5" />
<path class="k" d="M540.6 161.6V156.4H552.6V179.9" style="stroke-width:1.4"/>
<path class="k" d="M598.3 161.6V156.4H586.6V179.9" style="stroke-width:1.4"/>
<path class="k" d="M552.6 156.4Q552.6 155.2 551 154.6L548.6 153.8M586.6 156.4Q586.6 155.2 588.2 154.6L590.4 153.8" style="stroke-width:1.2"/>
<path class="k" d="M540.6 179.9L598.3 179.9"/>
<path class="n" d="M552.6 177.6L586.6 177.6"/>
<rect class="k" x="557.6" y="84.3" width="24.2" height="87.8" rx="2.6" style="stroke-width:1.35"/>
<rect class="n" x="559.8" y="86.6" width="19.8" height="83.2" rx="1.6"/>
<circle class="k" cx="569.4" cy="102" r="5.2" style="stroke-width:1.5"/>
<circle class="m" cx="569.4" cy="102" r="2.4" />
<circle class="mf" cx="555.9" cy="80.2" r="2.55" style="stroke-width:.95"/>
<circle class="n" cx="555.9" cy="80.2" r="0.9" style="stroke-width:.5"/>
<circle class="mf" cx="583.1" cy="80.2" r="2.55" style="stroke-width:.95"/>
<circle class="n" cx="583.1" cy="80.2" r="0.9" style="stroke-width:.5"/>
<circle class="mf" cx="552" cy="104" r="2.55" style="stroke-width:.95"/>
<circle class="n" cx="552" cy="104" r="0.9" style="stroke-width:.5"/>
<circle class="mf" cx="587.6" cy="104" r="2.55" style="stroke-width:.95"/>
<circle class="n" cx="587.6" cy="104" r="0.9" style="stroke-width:.5"/>
<circle class="mf" cx="552" cy="127.2" r="2.55" style="stroke-width:.95"/>
<circle class="n" cx="552" cy="127.2" r="0.9" style="stroke-width:.5"/>
<circle class="mf" cx="587.6" cy="127.2" r="2.55" style="stroke-width:.95"/>
<circle class="n" cx="587.6" cy="127.2" r="0.9" style="stroke-width:.5"/>
<circle class="mf" cx="552" cy="151.9" r="2.55" style="stroke-width:.95"/>
<circle class="n" cx="552" cy="151.9" r="0.9" style="stroke-width:.5"/>
<circle class="mf" cx="587.6" cy="151.9" r="2.55" style="stroke-width:.95"/>
<circle class="n" cx="587.6" cy="151.9" r="0.9" style="stroke-width:.5"/>
<circle class="mf" cx="556.2" cy="176" r="2.55" style="stroke-width:.95"/>
<circle class="n" cx="556.2" cy="176" r="0.9" style="stroke-width:.5"/>
<circle class="mf" cx="583.1" cy="176" r="2.55" style="stroke-width:.95"/>
<circle class="n" cx="583.1" cy="176" r="0.9" style="stroke-width:.5"/>
<circle class="n" cx="546.4" cy="89.4" r="2.9" />
<path class="n" d="M541.9 89.4L550.9 89.4"/>
<path class="n" d="M546.4 84.9L546.4 93.9"/>
<circle class="n" cx="546.4" cy="167.4" r="2.9" />
<path class="n" d="M541.9 167.4L550.9 167.4"/>
<path class="n" d="M546.4 162.9L546.4 171.9"/>
<circle class="n" cx="592.5" cy="89.4" r="2.9" />
<path class="n" d="M588 89.4L597 89.4"/>
<path class="n" d="M592.5 84.9L592.5 93.9"/>
<circle class="n" cx="592.5" cy="167.4" r="2.9" />
<path class="n" d="M588 167.4L597 167.4"/>
<path class="n" d="M592.5 162.9L592.5 171.9"/>
<path class="c" d="M569.4 40L569.4 181.5"/>
</g>
<rect class="nf" x="560.8" y="41" width="17.6" height="9.3" style="stroke:none"/>
<rect class="nf" x="558.5" y="50.3" width="22" height="15.1" style="stroke:none"/>
<rect class="gb" x="560.8" y="50.3" width="17.6" height="2.6" />
<path class="k" d="M558.5 65.4V51.6L560.8 50.3V41H578.4V50.3L580.6 51.6V65.4" />
<path class="d" d="M487 76.2L541 76.2"/>
<path class="d" d="M487 180.1L541 180.1"/>
<path class="d" d="M490.4 76.2L490.4 180.1"/>
<path class="ar" d="M490.4 76.2L491.2 81L489.6 81Z"/>
<path class="ar" d="M490.4 180.1L489.6 175.3L491.2 175.3Z"/>
<text class="lb" transform="translate(489.4 128.15) rotate(-90)" font-size="10.5" text-anchor="middle" >B</text>
<path class="d" d="M503.8 76.2L503.8 136.2"/>
<path class="ar" d="M503.8 76.2L504.6 81L503 81Z"/>
<path class="ar" d="M503.8 136.2L503 131.4L504.6 131.4Z"/>
<path class="d" d="M503.8 136.2L503.8 180.1"/>
<path class="ar" d="M503.8 136.2L504.6 141L503 141Z"/>
<path class="ar" d="M503.8 180.1L503 175.3L504.6 175.3Z"/>
<text class="lb" transform="translate(503 106.4) rotate(-90)" font-size="10.5" text-anchor="middle" >N</text>
<text class="lb" transform="translate(503 160.95) rotate(-90)" font-size="10.5" text-anchor="middle">G<tspan font-size="5.5" dy="1.2">3</tspan></text>
<path class="d" d="M514.3 89.4L547 89.4"/>
<path class="d" d="M516.3 89.4L516.3 136.2"/>
<path class="ar" d="M516.3 89.4L517.1 94.2L515.5 94.2Z"/>
<path class="ar" d="M516.3 136.2L515.5 131.4L517.1 131.4Z"/>
<text class="lb" transform="translate(515.3 112.8) rotate(-90)" font-size="10.5" text-anchor="middle" >Q</text>
<path class="d" d="M514.3 167.4L548 167.4"/>
<path class="d" d="M516.3 136.2L516.3 167.4"/>
<path class="ar" d="M516.3 136.2L517.1 141L515.5 141Z"/>
<path class="ar" d="M516.3 167.4L515.5 162.6L517.1 162.6Z"/>
<text class="lb" transform="translate(515.5 152.3) rotate(-90)" font-size="10.5" text-anchor="middle" >V</text>
<path class="d" d="M527.8 98.6L527.8 136.2"/>
<path class="ar" d="M527.8 98.6L528.6 103.4L527 103.4Z"/>
<path class="ar" d="M527.8 136.2L527 131.4L528.6 131.4Z"/>
<text class="lb" transform="translate(526.6 117.7) rotate(-90)" font-size="10.5" text-anchor="middle" >a</text>
<path class="c" d="M501 136.2L606 136.2"/>
<path class="c" d="M524.8 98.6L622.2 98.6"/>
<path class="d" d="M531.3 163.8L531.3 190.5"/>
<path class="d" d="M534.3 155.8L534.3 177.8"/>
<path class="d" d="M537.3 159.8L537.3 175.8"/>
<path class="d" d="M528 167.4L539 167.4"/>
<path class="d" d="M528 171.4L539 171.4"/>
<text class="lb" transform="translate(530.8 187.6) rotate(-90)" font-size="10.5" text-anchor="middle" >R</text>
<path class="d" d="M578.5 41.1L622.2 41.1"/>
<path class="d" d="M618.7 41.1L618.7 98.6"/>
<path class="ar" d="M618.7 41.1L619.5 45.9L617.9 45.9Z"/>
<path class="ar" d="M618.7 98.6L617.9 93.8L619.5 93.8Z"/>
<text class="lb" transform="translate(617.4 70.25) rotate(-90)" font-size="10.5" text-anchor="middle" >AD</text>
<path class="d" d="M600 112.6L621.8 112.6"/>
<path class="d" d="M600 161.6L621.8 161.6"/>
<path class="d" d="M618.3 112.6L618.3 161.6"/>
<path class="ar" d="M618.3 112.6L619.1 117.4L617.5 117.4Z"/>
<path class="ar" d="M618.3 161.6L617.5 156.8L619.1 156.8Z"/>
<text class="lb" transform="translate(617.3 137.4) rotate(-90)" font-size="10.5" text-anchor="middle" >E</text>
<path class="d" d="M546.3 180L546.3 196.9"/>
<path class="d" d="M592.7 180L592.7 196.9"/>
<path class="d" d="M546.3 194.4L592.7 194.4"/>
<path class="ar" d="M546.3 194.4L551.1 193.6L551.1 195.2Z"/>
<path class="ar" d="M592.7 194.4L587.9 195.2L587.9 193.6Z"/>
<text class="lb" x="569.6" y="192.7" font-size="10.5" text-anchor="middle" >C1</text>
<path class="d" d="M542.4 180L542.4 210.3"/>
<path class="d" d="M597.9 180L597.9 210.3"/>
<path class="d" d="M542.4 207.8L597.9 207.8"/>
<path class="ar" d="M542.4 207.8L547.2 207L547.2 208.6Z"/>
<path class="ar" d="M597.9 207.8L593.1 208.6L593.1 207Z"/>
<text class="lb" x="569.6" y="206.1" font-size="10.5" text-anchor="middle" >A1</text>
<path class="d" d="M540.8 180L540.8 223.5"/>
<path class="d" d="M599.5 180L599.5 223.5"/>
<path class="d" d="M540.8 221L599.5 221"/>
<path class="ar" d="M540.8 221L545.6 220.2L545.6 221.8Z"/>
<path class="ar" d="M599.5 221L594.7 221.8L594.7 220.2Z"/>
<text class="lb" x="569.6" y="219.3" font-size="10.5" text-anchor="middle" >L</text>
<path class="d" d="M539.4 180L539.4 236.4"/>
<path class="d" d="M600.9 180L600.9 236.4"/>
<path class="d" d="M539.4 233.9L600.9 233.9"/>
<path class="ar" d="M539.4 233.9L544.2 233.1L544.2 234.7Z"/>
<path class="ar" d="M600.9 233.9L596.1 234.7L596.1 233.1Z"/>
<text class="lb" x="569.6" y="232.2" font-size="10.5" text-anchor="middle" >G1</text>
<g transform="translate(0 220.4)">
<style>.gs{fill:#c4c6c8;stroke:none}</style>
<path class="k" d="M541.2 88.5Q536.1 89.2 536.1 94.2V148.9Q536.1 153.4 538.6 154.4" />
<path class="k" d="M597.8 88.5Q603.0 89.2 603.0 94.2V148.9Q603.0 153.4 600.5 154.4" />
<path class="n" d="M541.3 98.9V110L538.3 113.2V154.4" />
<path class="n" d="M597.7 98.9V110L600.7 113.2V154.4" />
<path class="k" d="M538.3 154.4V161.6H540.6V179.9" />
<path class="k" d="M600.7 154.4V161.6H598.3V179.9" />
<rect class="gs" x="539.2" y="113.5" width="2.3" height="37.9" />
<rect class="gs" x="597.5" y="113.5" width="2.3" height="37.9" />
<path class="n" d="M541.6 113.5V156.4M597.4 113.5V156.4" />
<path class="n" d="M543.4 99V156.4M595.6 99V156.4" />
<path class="n" d="M548.6 103V153.8M590.4 103V153.8" />
<path class="k" d="M541.2 76.3V98.9H552.2V76.3Z" style="stroke-width:1.5"/>
<path class="k" d="M598.4 76.3V98.9H586.6V76.3Z" style="stroke-width:1.5"/>
<path class="k" d="M541.2 76.3L598.4 76.3"/>
<path class="k" d="M552.2 98.9Q552.2 100.5 550.5 101.5L548.6 103M586.6 98.9Q586.6 100.5 588.3 101.5L590.4 103" style="stroke-width:1.2"/>
<path class="n" d="M553.6 76.3V99.5Q553.6 101 552.6 102V153Q552.6 155 554.2 156V172.5M585.4 76.3V99.5Q585.4 101 586.4 102V153Q586.4 155 584.8 156V172.5" />
<path class="k" d="M540.6 161.6V156.4H552.6V179.9" style="stroke-width:1.4"/>
<path class="k" d="M598.3 161.6V156.4H586.6V179.9" style="stroke-width:1.4"/>
<path class="k" d="M552.6 156.4Q552.6 155.2 551 154.6L548.6 153.8M586.6 156.4Q586.6 155.2 588.2 154.6L590.4 153.8" style="stroke-width:1.2"/>
<path class="k" d="M540.6 179.9L598.3 179.9"/>
<path class="n" d="M552.6 177.6L586.6 177.6"/>
<rect class="k" x="557.6" y="84.3" width="24.2" height="87.8" rx="2.6" style="stroke-width:1.35"/>
<rect class="n" x="559.8" y="86.6" width="19.8" height="83.2" rx="1.6"/>
<circle class="k" cx="569.4" cy="102" r="5.2" style="stroke-width:1.5"/>
<circle class="m" cx="569.4" cy="102" r="2.4" />
<circle class="mf" cx="555.9" cy="80.2" r="2.55" style="stroke-width:.95"/>
<circle class="n" cx="555.9" cy="80.2" r="0.9" style="stroke-width:.5"/>
<circle class="mf" cx="583.1" cy="80.2" r="2.55" style="stroke-width:.95"/>
<circle class="n" cx="583.1" cy="80.2" r="0.9" style="stroke-width:.5"/>
<circle class="mf" cx="552" cy="104" r="2.55" style="stroke-width:.95"/>
<circle class="n" cx="552" cy="104" r="0.9" style="stroke-width:.5"/>
<circle class="mf" cx="587.6" cy="104" r="2.55" style="stroke-width:.95"/>
<circle class="n" cx="587.6" cy="104" r="0.9" style="stroke-width:.5"/>
<circle class="mf" cx="552" cy="127.2" r="2.55" style="stroke-width:.95"/>
<circle class="n" cx="552" cy="127.2" r="0.9" style="stroke-width:.5"/>
<circle class="mf" cx="587.6" cy="127.2" r="2.55" style="stroke-width:.95"/>
<circle class="n" cx="587.6" cy="127.2" r="0.9" style="stroke-width:.5"/>
<circle class="mf" cx="552" cy="151.9" r="2.55" style="stroke-width:.95"/>
<circle class="n" cx="552" cy="151.9" r="0.9" style="stroke-width:.5"/>
<circle class="mf" cx="587.6" cy="151.9" r="2.55" style="stroke-width:.95"/>
<circle class="n" cx="587.6" cy="151.9" r="0.9" style="stroke-width:.5"/>
<circle class="mf" cx="556.2" cy="176" r="2.55" style="stroke-width:.95"/>
<circle class="n" cx="556.2" cy="176" r="0.9" style="stroke-width:.5"/>
<circle class="mf" cx="583.1" cy="176" r="2.55" style="stroke-width:.95"/>
<circle class="n" cx="583.1" cy="176" r="0.9" style="stroke-width:.5"/>
<circle class="n" cx="546.4" cy="89.4" r="2.9" />
<path class="n" d="M541.9 89.4L550.9 89.4"/>
<path class="n" d="M546.4 84.9L546.4 93.9"/>
<circle class="n" cx="546.4" cy="167.4" r="2.9" />
<path class="n" d="M541.9 167.4L550.9 167.4"/>
<path class="n" d="M546.4 162.9L546.4 171.9"/>
<circle class="n" cx="592.5" cy="89.4" r="2.9" />
<path class="n" d="M588 89.4L597 89.4"/>
<path class="n" d="M592.5 84.9L592.5 93.9"/>
<circle class="n" cx="592.5" cy="167.4" r="2.9" />
<path class="n" d="M588 167.4L597 167.4"/>
<path class="n" d="M592.5 162.9L592.5 171.9"/>
<path class="c" d="M569.4 58L569.4 181.5"/>
</g>
<rect class="nf" x="560.8" y="284.2" width="17.6" height="8" style="stroke:none"/>
<rect class="nf" x="558.5" y="292.2" width="22" height="4.4" style="stroke:none"/>
<rect class="gb" x="560.8" y="292.2" width="17.6" height="2.6" />
<path class="k" d="M558.5 296.6V293.5L560.8 292.2V284.2H578.4V292.2L580.6 293.5V296.6" />
<path class="mf" d="M567 290.2H572.4A1.6 1.6 0 0 1 572.4 293.4H567Z" />
<path class="d" d="M487 296.6L541 296.6"/>
<path class="d" d="M487 400.5L541 400.5"/>
<path class="d" d="M490.4 296.6L490.4 400.5"/>
<path class="ar" d="M490.4 296.6L491.2 301.4L489.6 301.4Z"/>
<path class="ar" d="M490.4 400.5L489.6 395.7L491.2 395.7Z"/>
<text class="lb" transform="translate(489.4 349.15) rotate(-90)" font-size="10.5" text-anchor="middle" >B</text>
<path class="d" d="M503.8 296.6L503.8 357.4"/>
<path class="ar" d="M503.8 296.6L504.6 301.4L503 301.4Z"/>
<path class="ar" d="M503.8 357.4L503 352.6L504.6 352.6Z"/>
<path class="d" d="M503.8 357.4L503.8 400.5"/>
<path class="ar" d="M503.8 357.4L504.6 362.2L503 362.2Z"/>
<path class="ar" d="M503.8 400.5L503 395.7L504.6 395.7Z"/>
<text class="lb" transform="translate(503 332.2) rotate(-90)" font-size="10.5" text-anchor="middle" >N</text>
<text class="lb" transform="translate(503 381.75) rotate(-90)" font-size="10.5" text-anchor="middle">G<tspan font-size="5.5" dy="1.2">3</tspan></text>
<path class="d" d="M515.7 310.4L547 310.4"/>
<path class="d" d="M517.7 310.4L517.7 357.4"/>
<path class="ar" d="M517.7 310.4L518.5 315.2L516.9 315.2Z"/>
<path class="ar" d="M517.7 357.4L516.9 352.6L518.5 352.6Z"/>
<text class="lb" transform="translate(516.7 333.9) rotate(-90)" font-size="10.5" text-anchor="middle" >Q</text>
<path class="d" d="M515.7 387.2L548 387.2"/>
<path class="d" d="M517.7 357.4L517.7 387.2"/>
<path class="ar" d="M517.7 357.4L518.5 362.2L516.9 362.2Z"/>
<path class="ar" d="M517.7 387.2L516.9 382.4L518.5 382.4Z"/>
<text class="lb" transform="translate(516.9 372.8) rotate(-90)" font-size="10.5" text-anchor="middle" >V</text>
<path class="d" d="M529.2 341.6L529.2 357.4"/>
<path class="ar" d="M529.2 341.6L530 346.4L528.4 346.4Z"/>
<path class="ar" d="M529.2 357.4L528.4 352.6L530 352.6Z"/>
<text class="lb" transform="translate(528 349.8) rotate(-90)" font-size="10.5" text-anchor="middle" >a</text>
<path class="c" d="M501 357.4L606 357.4"/>
<path class="c" d="M526.2 341.6L626.1 341.6"/>
<path class="d" d="M531.3 384.2L531.3 410.9"/>
<path class="d" d="M534.3 376.2L534.3 398.2"/>
<path class="d" d="M537.3 380.2L537.3 396.2"/>
<path class="d" d="M528 387.2L539 387.2"/>
<path class="d" d="M528 391.2L539 391.2"/>
<text class="lb" transform="translate(530.8 409.5) rotate(-90)" font-size="10.5" text-anchor="middle" >R</text>
<path class="d" d="M578.5 284.3L626.1 284.3"/>
<path class="d" d="M622.6 284.3L622.6 341.6"/>
<path class="ar" d="M622.6 284.3L623.4 289.1L621.8 289.1Z"/>
<path class="ar" d="M622.6 341.6L621.8 336.8L623.4 336.8Z"/>
<text class="lb" transform="translate(621.3 313.35) rotate(-90)" font-size="10.5" text-anchor="middle" >AD</text>
<path class="d" d="M600 333.2L621.8 333.2"/>
<path class="d" d="M600 381.6L621.8 381.6"/>
<path class="d" d="M618.3 333.2L618.3 381.6"/>
<path class="ar" d="M618.3 333.2L619.1 338L617.5 338Z"/>
<path class="ar" d="M618.3 381.6L617.5 376.8L619.1 376.8Z"/>
<text class="lb" transform="translate(617.3 357.7) rotate(-90)" font-size="10.5" text-anchor="middle" >E</text>
<path class="d" d="M546.3 400.4L546.3 418.9"/>
<path class="d" d="M592.7 400.4L592.7 418.9"/>
<path class="d" d="M546.3 416.4L592.7 416.4"/>
<path class="ar" d="M546.3 416.4L551.1 415.6L551.1 417.2Z"/>
<path class="ar" d="M592.7 416.4L587.9 417.2L587.9 415.6Z"/>
<text class="lb" x="569.6" y="414.7" font-size="10.5" text-anchor="middle" >C1</text>
<path class="d" d="M542.4 400.4L542.4 432.3"/>
<path class="d" d="M597.9 400.4L597.9 432.3"/>
<path class="d" d="M542.4 429.8L597.9 429.8"/>
<path class="ar" d="M542.4 429.8L547.2 429L547.2 430.6Z"/>
<path class="ar" d="M597.9 429.8L593.1 430.6L593.1 429Z"/>
<text class="lb" x="569.6" y="428.1" font-size="10.5" text-anchor="middle" >A1</text>
<path class="d" d="M540.8 400.4L540.8 445.5"/>
<path class="d" d="M599.5 400.4L599.5 445.5"/>
<path class="d" d="M540.8 443L599.5 443"/>
<path class="ar" d="M540.8 443L545.6 442.2L545.6 443.8Z"/>
<path class="ar" d="M599.5 443L594.7 443.8L594.7 442.2Z"/>
<text class="lb" x="569.6" y="441.3" font-size="10.5" text-anchor="middle" >L</text>
<path class="d" d="M539.4 400.4L539.4 458.4"/>
<path class="d" d="M600.9 400.4L600.9 458.4"/>
<path class="d" d="M539.4 455.9L600.9 455.9"/>
<path class="ar" d="M539.4 455.9L544.2 455.1L544.2 456.7Z"/>
<path class="ar" d="M600.9 455.9L596.1 456.7L596.1 455.1Z"/>
<text class="lb" x="569.6" y="454.2" font-size="10.5" text-anchor="middle" >G1</text>
<style>.hbg{fill:#d3d4d6}.wbg{fill:#fff}</style>
<rect class="hbg" x="1.5" y="469.3" width="645.8" height="38.2" />
<rect class="wbg" x="1.5" y="507.5" width="645.8" height="134.6" />
<path class="tg" d="M1.5 469.3L647.3 469.3"/>
<path class="tg" d="M93.76 488.5L647.3 488.5"/>
<path class="tg" d="M1.5 507.5L647.3 507.5"/>
<path class="tg" d="M1.5 527.4L647.3 527.4"/>
<path class="tg" d="M1.5 546.4L647.3 546.4"/>
<path class="tg" d="M1.5 565.5L647.3 565.5"/>
<path class="tg" d="M1.5 584.5L647.3 584.5"/>
<path class="tg" d="M1.5 603.6L647.3 603.6"/>
<path class="tg" d="M1.5 622.9L647.3 622.9"/>
<path class="tg" d="M1.5 642.1L647.3 642.1"/>
<path class="tg" d="M1.5 469.3L1.5 642.1"/>
<path class="tg" d="M32.25 469.3L32.25 642.1"/>
<path class="tg" d="M63 469.3L63 642.1"/>
<path class="tg" d="M93.76 469.3L93.76 642.1"/>
<path class="tg" d="M124.51 488.5L124.51 642.1"/>
<path class="tg" d="M155.26 469.3L155.26 642.1"/>
<path class="tg" d="M186.01 488.5L186.01 642.1"/>
<path class="tg" d="M216.77 469.3L216.77 642.1"/>
<path class="tg" d="M247.52 488.5L247.52 642.1"/>
<path class="tg" d="M278.27 469.3L278.27 642.1"/>
<path class="tg" d="M309.02 488.5L309.02 642.1"/>
<path class="tg" d="M339.78 469.3L339.78 642.1"/>
<path class="tg" d="M370.53 488.5L370.53 642.1"/>
<path class="tg" d="M401.28 469.3L401.28 642.1"/>
<path class="tg" d="M432.03 488.5L432.03 642.1"/>
<path class="tg" d="M462.79 469.3L462.79 642.1"/>
<path class="tg" d="M493.54 488.5L493.54 642.1"/>
<path class="tg" d="M524.29 469.3L524.29 642.1"/>
<path class="tg" d="M555.04 488.5L555.04 642.1"/>
<path class="tg" d="M585.8 469.3L585.8 642.1"/>
<path class="tg" d="M616.55 488.5L616.55 642.1"/>
<path class="tg" d="M647.3 469.3L647.3 642.1"/>
<text class="th" x="16.88" y="494.2" font-size="12" text-anchor="middle" textLength="23" lengthAdjust="spacingAndGlyphs">STM</text>
<text class="th" x="47.63" y="494.2" font-size="12" text-anchor="middle" textLength="15.2" lengthAdjust="spacingAndGlyphs">AC</text>
<text class="th" x="78.38" y="494.2" font-size="12" text-anchor="middle" textLength="15.6" lengthAdjust="spacingAndGlyphs">AD</text>
<text class="th" x="124.51" y="483.7" font-size="12" text-anchor="middle" textLength="29.4" lengthAdjust="spacingAndGlyphs">M006</text>
<text class="tt" x="109.13" y="503.1" font-size="10.5" text-anchor="middle" textLength="10.6" lengthAdjust="spacingAndGlyphs">AB</text>
<text class="tt" x="139.89" y="503.1" font-size="10.5" text-anchor="middle" textLength="15.1" lengthAdjust="spacingAndGlyphs">AB1</text>
<text class="th" x="186.01" y="483.7" font-size="12" text-anchor="middle" textLength="29.4" lengthAdjust="spacingAndGlyphs">M013</text>
<text class="tt" x="170.64" y="503.1" font-size="10.5" text-anchor="middle" textLength="10.6" lengthAdjust="spacingAndGlyphs">AB</text>
<text class="tt" x="201.39" y="503.1" font-size="10.5" text-anchor="middle" textLength="15.1" lengthAdjust="spacingAndGlyphs">AB1</text>
<text class="th" x="247.52" y="483.7" font-size="12" text-anchor="middle" textLength="29.4" lengthAdjust="spacingAndGlyphs">M020</text>
<text class="tt" x="232.14" y="503.1" font-size="10.5" text-anchor="middle" textLength="10.6" lengthAdjust="spacingAndGlyphs">AB</text>
<text class="tt" x="262.9" y="503.1" font-size="10.5" text-anchor="middle" textLength="15.1" lengthAdjust="spacingAndGlyphs">AB1</text>
<text class="th" x="309.02" y="483.7" font-size="12" text-anchor="middle" textLength="29.4" lengthAdjust="spacingAndGlyphs">M024</text>
<text class="tt" x="293.65" y="503.1" font-size="10.5" text-anchor="middle" textLength="10.6" lengthAdjust="spacingAndGlyphs">AB</text>
<text class="tt" x="324.4" y="503.1" font-size="10.5" text-anchor="middle" textLength="15.1" lengthAdjust="spacingAndGlyphs">AB1</text>
<text class="th" x="370.53" y="483.7" font-size="12" text-anchor="middle" textLength="29.4" lengthAdjust="spacingAndGlyphs">M035</text>
<text class="tt" x="355.15" y="503.1" font-size="10.5" text-anchor="middle" textLength="10.6" lengthAdjust="spacingAndGlyphs">AB</text>
<text class="tt" x="385.9" y="503.1" font-size="10.5" text-anchor="middle" textLength="15.1" lengthAdjust="spacingAndGlyphs">AB1</text>
<text class="th" x="432.03" y="483.7" font-size="12" text-anchor="middle" textLength="29.4" lengthAdjust="spacingAndGlyphs">M040</text>
<text class="tt" x="416.66" y="503.1" font-size="10.5" text-anchor="middle" textLength="10.6" lengthAdjust="spacingAndGlyphs">AB</text>
<text class="tt" x="447.41" y="503.1" font-size="10.5" text-anchor="middle" textLength="15.1" lengthAdjust="spacingAndGlyphs">AB1</text>
<text class="th" x="493.54" y="483.7" font-size="12" text-anchor="middle" textLength="29.4" lengthAdjust="spacingAndGlyphs">M050</text>
<text class="tt" x="478.16" y="503.1" font-size="10.5" text-anchor="middle" textLength="10.6" lengthAdjust="spacingAndGlyphs">AB</text>
<text class="tt" x="508.91" y="503.1" font-size="10.5" text-anchor="middle" textLength="15.1" lengthAdjust="spacingAndGlyphs">AB1</text>
<text class="th" x="555.04" y="483.7" font-size="12" text-anchor="middle" textLength="29.4" lengthAdjust="spacingAndGlyphs">M060</text>
<text class="tt" x="539.67" y="503.1" font-size="10.5" text-anchor="middle" textLength="10.6" lengthAdjust="spacingAndGlyphs">AB</text>
<text class="tt" x="570.42" y="503.1" font-size="10.5" text-anchor="middle" textLength="15.1" lengthAdjust="spacingAndGlyphs">AB1</text>
<text class="th" x="616.55" y="483.7" font-size="12" text-anchor="middle" textLength="29.4" lengthAdjust="spacingAndGlyphs">M077</text>
<text class="tt" x="601.17" y="503.1" font-size="10.5" text-anchor="middle" textLength="10.6" lengthAdjust="spacingAndGlyphs">AB</text>
<text class="tt" x="631.92" y="503.1" font-size="10.5" text-anchor="middle" textLength="15.1" lengthAdjust="spacingAndGlyphs">AB1</text>
<text class="tt" x="16.88" y="521.8" font-size="10.8" text-anchor="middle" textLength="10.1" lengthAdjust="spacingAndGlyphs">60</text>
<text class="tt" x="47.63" y="521.8" font-size="10.8" text-anchor="middle" textLength="10.1" lengthAdjust="spacingAndGlyphs">60</text>
<text class="tt" x="78.38" y="521.8" font-size="10.8" text-anchor="middle" textLength="10.1" lengthAdjust="spacingAndGlyphs">76</text>
<text class="tt" x="109.13" y="521.8" font-size="10.8" text-anchor="middle" textLength="15.15" lengthAdjust="spacingAndGlyphs">142</text>
<text class="tt" x="139.89" y="521.8" font-size="10.8" text-anchor="middle" textLength="15.15" lengthAdjust="spacingAndGlyphs">190</text>
<text class="tt" x="170.64" y="521.8" font-size="10.8" text-anchor="middle" textLength="15.15" lengthAdjust="spacingAndGlyphs">167</text>
<text class="tt" x="201.39" y="521.8" font-size="10.8" text-anchor="middle" textLength="15.15" lengthAdjust="spacingAndGlyphs">215</text>
<path d="M229.84 518.2h4.6" stroke="#555" stroke-width=".9" fill="none"/>
<path d="M260.6 518.2h4.6" stroke="#555" stroke-width=".9" fill="none"/>
<path d="M291.35 518.2h4.6" stroke="#555" stroke-width=".9" fill="none"/>
<path d="M322.1 518.2h4.6" stroke="#555" stroke-width=".9" fill="none"/>
<path d="M352.85 518.2h4.6" stroke="#555" stroke-width=".9" fill="none"/>
<path d="M383.6 518.2h4.6" stroke="#555" stroke-width=".9" fill="none"/>
<path d="M414.36 518.2h4.6" stroke="#555" stroke-width=".9" fill="none"/>
<path d="M445.11 518.2h4.6" stroke="#555" stroke-width=".9" fill="none"/>
<path d="M475.86 518.2h4.6" stroke="#555" stroke-width=".9" fill="none"/>
<path d="M506.61 518.2h4.6" stroke="#555" stroke-width=".9" fill="none"/>
<path d="M537.37 518.2h4.6" stroke="#555" stroke-width=".9" fill="none"/>
<path d="M568.12 518.2h4.6" stroke="#555" stroke-width=".9" fill="none"/>
<path d="M598.87 518.2h4.6" stroke="#555" stroke-width=".9" fill="none"/>
<path d="M629.62 518.2h4.6" stroke="#555" stroke-width=".9" fill="none"/>
<text class="tt" x="16.88" y="541.25" font-size="10.8" text-anchor="middle" textLength="10.1" lengthAdjust="spacingAndGlyphs">80</text>
<text class="tt" x="47.63" y="541.25" font-size="10.8" text-anchor="middle" textLength="10.1" lengthAdjust="spacingAndGlyphs">80</text>
<text class="tt" x="78.38" y="541.25" font-size="10.8" text-anchor="middle" textLength="10.1" lengthAdjust="spacingAndGlyphs">86</text>
<path d="M106.83 537.65h4.6" stroke="#555" stroke-width=".9" fill="none"/>
<path d="M137.59 537.65h4.6" stroke="#555" stroke-width=".9" fill="none"/>
<text class="tt" x="170.64" y="541.25" font-size="10.8" text-anchor="middle" textLength="15.15" lengthAdjust="spacingAndGlyphs">154</text>
<text class="tt" x="201.39" y="541.25" font-size="10.8" text-anchor="middle" textLength="15.15" lengthAdjust="spacingAndGlyphs">194</text>
<path d="M229.84 537.65h4.6" stroke="#555" stroke-width=".9" fill="none"/>
<path d="M260.6 537.65h4.6" stroke="#555" stroke-width=".9" fill="none"/>
<text class="tt" x="293.65" y="541.25" font-size="10.8" text-anchor="middle" textLength="15.15" lengthAdjust="spacingAndGlyphs">181</text>
<text class="tt" x="324.4" y="541.25" font-size="10.8" text-anchor="middle" textLength="15.15" lengthAdjust="spacingAndGlyphs">221</text>
<text class="tt" x="355.15" y="541.25" font-size="10.8" text-anchor="middle" textLength="15.15" lengthAdjust="spacingAndGlyphs">209</text>
<text class="tt" x="385.9" y="541.25" font-size="10.8" text-anchor="middle" textLength="15.15" lengthAdjust="spacingAndGlyphs">249</text>
<text class="tt" x="416.66" y="541.25" font-size="10.8" text-anchor="middle" textLength="15.15" lengthAdjust="spacingAndGlyphs">221</text>
<text class="tt" x="447.41" y="541.25" font-size="10.8" text-anchor="middle" textLength="15.15" lengthAdjust="spacingAndGlyphs">261</text>
<path d="M475.86 537.65h4.6" stroke="#555" stroke-width=".9" fill="none"/>
<path d="M506.61 537.65h4.6" stroke="#555" stroke-width=".9" fill="none"/>
<path d="M537.37 537.65h4.6" stroke="#555" stroke-width=".9" fill="none"/>
<path d="M568.12 537.65h4.6" stroke="#555" stroke-width=".9" fill="none"/>
<path d="M598.87 537.65h4.6" stroke="#555" stroke-width=".9" fill="none"/>
<path d="M629.62 537.65h4.6" stroke="#555" stroke-width=".9" fill="none"/>
<text class="tt" x="16.88" y="560.3" font-size="10.8" text-anchor="middle" textLength="10.1" lengthAdjust="spacingAndGlyphs">90</text>
<text class="tt" x="47.63" y="560.3" font-size="10.8" text-anchor="middle" textLength="18.35" lengthAdjust="spacingAndGlyphs">86.6</text>
<text class="tt" x="78.38" y="560.3" font-size="10.8" text-anchor="middle" textLength="18.35" lengthAdjust="spacingAndGlyphs">89.3</text>
<path d="M106.83 556.7h4.6" stroke="#555" stroke-width=".9" fill="none"/>
<path d="M137.59 556.7h4.6" stroke="#555" stroke-width=".9" fill="none"/>
<path d="M168.34 556.7h4.6" stroke="#555" stroke-width=".9" fill="none"/>
<path d="M199.09 556.7h4.6" stroke="#555" stroke-width=".9" fill="none"/>
<path d="M229.84 556.7h4.6" stroke="#555" stroke-width=".9" fill="none"/>
<path d="M260.6 556.7h4.6" stroke="#555" stroke-width=".9" fill="none"/>
<text class="tt" x="293.65" y="560.3" font-size="10.8" text-anchor="middle" textLength="15.15" lengthAdjust="spacingAndGlyphs">180</text>
<text class="tt" x="324.4" y="560.3" font-size="10.8" text-anchor="middle" textLength="15.15" lengthAdjust="spacingAndGlyphs">228</text>
<text class="tt" x="355.15" y="560.3" font-size="10.8" text-anchor="middle" textLength="15.15" lengthAdjust="spacingAndGlyphs">202</text>
<text class="tt" x="385.9" y="560.3" font-size="10.8" text-anchor="middle" textLength="15.15" lengthAdjust="spacingAndGlyphs">250</text>
<text class="tt" x="416.66" y="560.3" font-size="10.8" text-anchor="middle" textLength="15.15" lengthAdjust="spacingAndGlyphs">212</text>
<text class="tt" x="447.41" y="560.3" font-size="10.8" text-anchor="middle" textLength="15.15" lengthAdjust="spacingAndGlyphs">260</text>
<path d="M475.86 556.7h4.6" stroke="#555" stroke-width=".9" fill="none"/>
<path d="M506.61 556.7h4.6" stroke="#555" stroke-width=".9" fill="none"/>
<path d="M537.37 556.7h4.6" stroke="#555" stroke-width=".9" fill="none"/>
<path d="M568.12 556.7h4.6" stroke="#555" stroke-width=".9" fill="none"/>
<path d="M598.87 556.7h4.6" stroke="#555" stroke-width=".9" fill="none"/>
<path d="M629.62 556.7h4.6" stroke="#555" stroke-width=".9" fill="none"/>
<text class="tt" x="16.88" y="579.35" font-size="10.8" text-anchor="middle" textLength="15.15" lengthAdjust="spacingAndGlyphs">110</text>
<text class="tt" x="47.63" y="579.35" font-size="10.8" text-anchor="middle" textLength="15.15" lengthAdjust="spacingAndGlyphs">110</text>
<text class="tt" x="78.38" y="579.35" font-size="10.8" text-anchor="middle" textLength="15.15" lengthAdjust="spacingAndGlyphs">103</text>
<path d="M106.83 575.75h4.6" stroke="#555" stroke-width=".9" fill="none"/>
<path d="M137.59 575.75h4.6" stroke="#555" stroke-width=".9" fill="none"/>
<path d="M168.34 575.75h4.6" stroke="#555" stroke-width=".9" fill="none"/>
<path d="M199.09 575.75h4.6" stroke="#555" stroke-width=".9" fill="none"/>
<text class="tt" x="232.14" y="579.35" font-size="10.8" text-anchor="middle" textLength="15.15" lengthAdjust="spacingAndGlyphs">159</text>
<text class="tt" x="262.9" y="579.35" font-size="10.8" text-anchor="middle" textLength="15.15" lengthAdjust="spacingAndGlyphs">263</text>
<path d="M291.35 575.75h4.6" stroke="#555" stroke-width=".9" fill="none"/>
<path d="M322.1 575.75h4.6" stroke="#555" stroke-width=".9" fill="none"/>
<path d="M352.85 575.75h4.6" stroke="#555" stroke-width=".9" fill="none"/>
<path d="M383.6 575.75h4.6" stroke="#555" stroke-width=".9" fill="none"/>
<text class="tt" x="416.66" y="579.35" font-size="10.8" text-anchor="middle" textLength="15.15" lengthAdjust="spacingAndGlyphs">222</text>
<text class="tt" x="447.41" y="579.35" font-size="10.8" text-anchor="middle" textLength="15.15" lengthAdjust="spacingAndGlyphs">274</text>
<text class="tt" x="478.16" y="579.35" font-size="10.8" text-anchor="middle" textLength="15.15" lengthAdjust="spacingAndGlyphs">234</text>
<text class="tt" x="508.91" y="579.35" font-size="10.8" text-anchor="middle" textLength="15.15" lengthAdjust="spacingAndGlyphs">308</text>
<text class="tt" x="539.67" y="579.35" font-size="10.8" text-anchor="middle" textLength="15.15" lengthAdjust="spacingAndGlyphs">242</text>
<text class="tt" x="570.42" y="579.35" font-size="10.8" text-anchor="middle" textLength="15.15" lengthAdjust="spacingAndGlyphs">274</text>
<path d="M598.87 575.75h4.6" stroke="#555" stroke-width=".9" fill="none"/>
<path d="M629.62 575.75h4.6" stroke="#555" stroke-width=".9" fill="none"/>
<text class="tt" x="16.88" y="598.4" font-size="10.8" text-anchor="middle" textLength="15.15" lengthAdjust="spacingAndGlyphs">130</text>
<text class="tt" x="47.63" y="598.4" font-size="10.8" text-anchor="middle" textLength="15.15" lengthAdjust="spacingAndGlyphs">130</text>
<text class="tt" x="78.38" y="598.4" font-size="10.8" text-anchor="middle" textLength="15.15" lengthAdjust="spacingAndGlyphs">113</text>
<path d="M106.83 594.8h4.6" stroke="#555" stroke-width=".9" fill="none"/>
<path d="M137.59 594.8h4.6" stroke="#555" stroke-width=".9" fill="none"/>
<path d="M168.34 594.8h4.6" stroke="#555" stroke-width=".9" fill="none"/>
<path d="M199.09 594.8h4.6" stroke="#555" stroke-width=".9" fill="none"/>
<path d="M229.84 594.8h4.6" stroke="#555" stroke-width=".9" fill="none"/>
<path d="M260.6 594.8h4.6" stroke="#555" stroke-width=".9" fill="none"/>
<path d="M291.35 594.8h4.6" stroke="#555" stroke-width=".9" fill="none"/>
<path d="M322.1 594.8h4.6" stroke="#555" stroke-width=".9" fill="none"/>
<path d="M352.85 594.8h4.6" stroke="#555" stroke-width=".9" fill="none"/>
<path d="M383.6 594.8h4.6" stroke="#555" stroke-width=".9" fill="none"/>
<text class="tt" x="416.66" y="598.4" font-size="10.8" text-anchor="middle" textLength="15.15" lengthAdjust="spacingAndGlyphs">196</text>
<text class="tt" x="447.41" y="598.4" font-size="10.8" text-anchor="middle" textLength="15.15" lengthAdjust="spacingAndGlyphs">253</text>
<text class="tt" x="478.16" y="598.4" font-size="10.8" text-anchor="middle" textLength="15.15" lengthAdjust="spacingAndGlyphs">201</text>
<text class="tt" x="508.91" y="598.4" font-size="10.8" text-anchor="middle" textLength="15.15" lengthAdjust="spacingAndGlyphs">258</text>
<text class="tt" x="539.67" y="598.4" font-size="10.8" text-anchor="middle" textLength="15.15" lengthAdjust="spacingAndGlyphs">209</text>
<text class="tt" x="570.42" y="598.4" font-size="10.8" text-anchor="middle" textLength="15.15" lengthAdjust="spacingAndGlyphs">266</text>
<text class="tt" x="601.17" y="598.4" font-size="10.8" text-anchor="middle" textLength="15.15" lengthAdjust="spacingAndGlyphs">222</text>
<text class="tt" x="631.92" y="598.4" font-size="10.8" text-anchor="middle" textLength="15.15" lengthAdjust="spacingAndGlyphs">279</text>
<text class="tt" x="16.88" y="617.6" font-size="10.8" text-anchor="middle" textLength="15.15" lengthAdjust="spacingAndGlyphs">150</text>
<text class="tt" x="47.63" y="617.6" font-size="10.8" text-anchor="middle" textLength="15.15" lengthAdjust="spacingAndGlyphs">150</text>
<text class="tt" x="78.38" y="617.6" font-size="10.8" text-anchor="middle" textLength="15.15" lengthAdjust="spacingAndGlyphs">123</text>
<path d="M106.83 614h4.6" stroke="#555" stroke-width=".9" fill="none"/>
<path d="M137.59 614h4.6" stroke="#555" stroke-width=".9" fill="none"/>
<path d="M168.34 614h4.6" stroke="#555" stroke-width=".9" fill="none"/>
<path d="M199.09 614h4.6" stroke="#555" stroke-width=".9" fill="none"/>
<path d="M229.84 614h4.6" stroke="#555" stroke-width=".9" fill="none"/>
<path d="M260.6 614h4.6" stroke="#555" stroke-width=".9" fill="none"/>
<path d="M291.35 614h4.6" stroke="#555" stroke-width=".9" fill="none"/>
<path d="M322.1 614h4.6" stroke="#555" stroke-width=".9" fill="none"/>
<path d="M352.85 614h4.6" stroke="#555" stroke-width=".9" fill="none"/>
<path d="M383.6 614h4.6" stroke="#555" stroke-width=".9" fill="none"/>
<path d="M414.36 614h4.6" stroke="#555" stroke-width=".9" fill="none"/>
<path d="M445.11 614h4.6" stroke="#555" stroke-width=".9" fill="none"/>
<path d="M475.86 614h4.6" stroke="#555" stroke-width=".9" fill="none"/>
<path d="M506.61 614h4.6" stroke="#555" stroke-width=".9" fill="none"/>
<path d="M537.37 614h4.6" stroke="#555" stroke-width=".9" fill="none"/>
<path d="M568.12 614h4.6" stroke="#555" stroke-width=".9" fill="none"/>
<path d="M598.87 614h4.6" stroke="#555" stroke-width=".9" fill="none"/>
<path d="M629.62 614h4.6" stroke="#555" stroke-width=".9" fill="none"/>
<text class="tt" x="16.88" y="636.85" font-size="10.8" text-anchor="middle" textLength="15.15" lengthAdjust="spacingAndGlyphs">180</text>
<text class="tt" x="47.63" y="636.85" font-size="10.8" text-anchor="middle" textLength="15.15" lengthAdjust="spacingAndGlyphs">180</text>
<text class="tt" x="78.38" y="636.85" font-size="10.8" text-anchor="middle" textLength="15.15" lengthAdjust="spacingAndGlyphs">138</text>
<path d="M106.83 633.25h4.6" stroke="#555" stroke-width=".9" fill="none"/>
<path d="M137.59 633.25h4.6" stroke="#555" stroke-width=".9" fill="none"/>
<path d="M168.34 633.25h4.6" stroke="#555" stroke-width=".9" fill="none"/>
<path d="M199.09 633.25h4.6" stroke="#555" stroke-width=".9" fill="none"/>
<path d="M229.84 633.25h4.6" stroke="#555" stroke-width=".9" fill="none"/>
<path d="M260.6 633.25h4.6" stroke="#555" stroke-width=".9" fill="none"/>
<path d="M291.35 633.25h4.6" stroke="#555" stroke-width=".9" fill="none"/>
<path d="M322.1 633.25h4.6" stroke="#555" stroke-width=".9" fill="none"/>
<path d="M352.85 633.25h4.6" stroke="#555" stroke-width=".9" fill="none"/>
<path d="M383.6 633.25h4.6" stroke="#555" stroke-width=".9" fill="none"/>
<path d="M414.36 633.25h4.6" stroke="#555" stroke-width=".9" fill="none"/>
<path d="M445.11 633.25h4.6" stroke="#555" stroke-width=".9" fill="none"/>
<path d="M475.86 633.25h4.6" stroke="#555" stroke-width=".9" fill="none"/>
<path d="M506.61 633.25h4.6" stroke="#555" stroke-width=".9" fill="none"/>
<path d="M537.37 633.25h4.6" stroke="#555" stroke-width=".9" fill="none"/>
<path d="M568.12 633.25h4.6" stroke="#555" stroke-width=".9" fill="none"/>
<path d="M598.87 633.25h4.6" stroke="#555" stroke-width=".9" fill="none"/>
<path d="M629.62 633.25h4.6" stroke="#555" stroke-width=".9" fill="none"/>
<rect class="hbg" x="1.5" y="649" width="645.8" height="38.4" />
<rect class="wbg" x="1.5" y="687.4" width="645.8" height="57.4" />
<path class="tg" d="M1.5 649L647.3 649"/>
<path class="tg" d="M32.25 668.2L647.3 668.2"/>
<path class="tg" d="M1.5 687.4L647.3 687.4"/>
<path class="tg" d="M1.5 706.5L647.3 706.5"/>
<path class="tg" d="M1.5 725.6L647.3 725.6"/>
<path class="tg" d="M1.5 744.8L647.3 744.8"/>
<path class="tg" d="M1.5 649L1.5 744.8"/>
<path class="tg" d="M32.25 649L32.25 744.8"/>
<path class="tg" d="M63 668.2L63 744.8"/>
<path class="tg" d="M93.76 649L93.76 744.8"/>
<path class="tg" d="M124.51 668.2L124.51 744.8"/>
<path class="tg" d="M155.26 649L155.26 744.8"/>
<path class="tg" d="M186.01 668.2L186.01 744.8"/>
<path class="tg" d="M216.77 649L216.77 744.8"/>
<path class="tg" d="M247.52 668.2L247.52 744.8"/>
<path class="tg" d="M278.27 649L278.27 744.8"/>
<path class="tg" d="M309.02 668.2L309.02 744.8"/>
<path class="tg" d="M339.78 649L339.78 744.8"/>
<path class="tg" d="M370.53 668.2L370.53 744.8"/>
<path class="tg" d="M401.28 649L401.28 744.8"/>
<path class="tg" d="M432.03 668.2L432.03 744.8"/>
<path class="tg" d="M462.79 649L462.79 744.8"/>
<path class="tg" d="M493.54 668.2L493.54 744.8"/>
<path class="tg" d="M524.29 649L524.29 744.8"/>
<path class="tg" d="M555.04 668.2L555.04 744.8"/>
<path class="tg" d="M585.8 649L585.8 744.8"/>
<path class="tg" d="M616.55 668.2L616.55 744.8"/>
<path class="tg" d="M647.3 649L647.3 744.8"/>
<text class="th" x="16.88" y="673.9" font-size="12" text-anchor="middle" textLength="23" lengthAdjust="spacingAndGlyphs">STM</text>
<text class="th" x="63" y="663.4" font-size="12" text-anchor="middle" textLength="29.4" lengthAdjust="spacingAndGlyphs">M100</text>
<text class="tt" x="47.63" y="682.8" font-size="10.5" text-anchor="middle" textLength="10.6" lengthAdjust="spacingAndGlyphs">AB</text>
<text class="tt" x="78.38" y="682.8" font-size="10.5" text-anchor="middle" textLength="15.1" lengthAdjust="spacingAndGlyphs">AB1</text>
<text class="th" x="124.51" y="663.4" font-size="12" text-anchor="middle" textLength="29.4" lengthAdjust="spacingAndGlyphs">M150</text>
<text class="tt" x="109.13" y="682.8" font-size="10.5" text-anchor="middle" textLength="10.6" lengthAdjust="spacingAndGlyphs">AB</text>
<text class="tt" x="139.89" y="682.8" font-size="10.5" text-anchor="middle" textLength="15.1" lengthAdjust="spacingAndGlyphs">AB1</text>
<text class="th" x="186.01" y="663.4" font-size="12" text-anchor="middle" textLength="29.4" lengthAdjust="spacingAndGlyphs">M172</text>
<text class="tt" x="170.64" y="682.8" font-size="10.5" text-anchor="middle" textLength="10.6" lengthAdjust="spacingAndGlyphs">AB</text>
<text class="tt" x="201.39" y="682.8" font-size="10.5" text-anchor="middle" textLength="15.1" lengthAdjust="spacingAndGlyphs">AB1</text>
<text class="th" x="247.52" y="663.4" font-size="12" text-anchor="middle" textLength="29.4" lengthAdjust="spacingAndGlyphs">M180</text>
<text class="tt" x="232.14" y="682.8" font-size="10.5" text-anchor="middle" textLength="10.6" lengthAdjust="spacingAndGlyphs">AB</text>
<text class="tt" x="262.9" y="682.8" font-size="10.5" text-anchor="middle" textLength="15.1" lengthAdjust="spacingAndGlyphs">AB1</text>
<text class="th" x="309.02" y="663.4" font-size="12" text-anchor="middle" textLength="29.4" lengthAdjust="spacingAndGlyphs">M190</text>
<text class="tt" x="293.65" y="682.8" font-size="10.5" text-anchor="middle" textLength="10.6" lengthAdjust="spacingAndGlyphs">AB</text>
<text class="tt" x="324.4" y="682.8" font-size="10.5" text-anchor="middle" textLength="15.1" lengthAdjust="spacingAndGlyphs">AB1</text>
<text class="th" x="370.53" y="663.4" font-size="12" text-anchor="middle" textLength="29.4" lengthAdjust="spacingAndGlyphs">M215</text>
<text class="tt" x="355.15" y="682.8" font-size="10.5" text-anchor="middle" textLength="10.6" lengthAdjust="spacingAndGlyphs">AB</text>
<text class="tt" x="385.9" y="682.8" font-size="10.5" text-anchor="middle" textLength="15.1" lengthAdjust="spacingAndGlyphs">AB1</text>
<text class="th" x="432.03" y="663.4" font-size="12" text-anchor="middle" textLength="29.4" lengthAdjust="spacingAndGlyphs">M230</text>
<text class="tt" x="416.66" y="682.8" font-size="10.5" text-anchor="middle" textLength="10.6" lengthAdjust="spacingAndGlyphs">AB</text>
<text class="tt" x="447.41" y="682.8" font-size="10.5" text-anchor="middle" textLength="15.1" lengthAdjust="spacingAndGlyphs">AB1</text>
<text class="th" x="493.54" y="663.4" font-size="12" text-anchor="middle" textLength="29.4" lengthAdjust="spacingAndGlyphs">M270</text>
<text class="tt" x="478.16" y="682.8" font-size="10.5" text-anchor="middle" textLength="10.6" lengthAdjust="spacingAndGlyphs">AB</text>
<text class="tt" x="508.91" y="682.8" font-size="10.5" text-anchor="middle" textLength="15.1" lengthAdjust="spacingAndGlyphs">AB1</text>
<text class="th" x="555.04" y="663.4" font-size="12" text-anchor="middle" textLength="29.4" lengthAdjust="spacingAndGlyphs">M350</text>
<text class="tt" x="539.67" y="682.8" font-size="10.5" text-anchor="middle" textLength="10.6" lengthAdjust="spacingAndGlyphs">AB</text>
<text class="tt" x="570.42" y="682.8" font-size="10.5" text-anchor="middle" textLength="15.1" lengthAdjust="spacingAndGlyphs">AB1</text>
<text class="th" x="616.55" y="663.4" font-size="12" text-anchor="middle" textLength="29.4" lengthAdjust="spacingAndGlyphs">M480</text>
<text class="tt" x="601.17" y="682.8" font-size="10.5" text-anchor="middle" textLength="10.6" lengthAdjust="spacingAndGlyphs">AB</text>
<text class="tt" x="631.92" y="682.8" font-size="10.5" text-anchor="middle" textLength="15.1" lengthAdjust="spacingAndGlyphs">AB1</text>
<text class="tt" x="16.88" y="701.3" font-size="10.8" text-anchor="middle" textLength="15.15" lengthAdjust="spacingAndGlyphs">130</text>
<text class="tt" x="47.63" y="701.3" font-size="10.8" text-anchor="middle" textLength="15.15" lengthAdjust="spacingAndGlyphs">234</text>
<text class="tt" x="78.38" y="701.3" font-size="10.8" text-anchor="middle" textLength="15.15" lengthAdjust="spacingAndGlyphs">286</text>
<text class="tt" x="109.13" y="701.3" font-size="10.8" text-anchor="middle" textLength="15.15" lengthAdjust="spacingAndGlyphs">271</text>
<text class="tt" x="139.89" y="701.3" font-size="10.8" text-anchor="middle" textLength="15.15" lengthAdjust="spacingAndGlyphs">352</text>
<path d="M168.34 697.7h4.6" stroke="#555" stroke-width=".9" fill="none"/>
<path d="M199.09 697.7h4.6" stroke="#555" stroke-width=".9" fill="none"/>
<path d="M229.84 697.7h4.6" stroke="#555" stroke-width=".9" fill="none"/>
<path d="M260.6 697.7h4.6" stroke="#555" stroke-width=".9" fill="none"/>
<path d="M291.35 697.7h4.6" stroke="#555" stroke-width=".9" fill="none"/>
<path d="M322.1 697.7h4.6" stroke="#555" stroke-width=".9" fill="none"/>
<path d="M352.85 697.7h4.6" stroke="#555" stroke-width=".9" fill="none"/>
<path d="M383.6 697.7h4.6" stroke="#555" stroke-width=".9" fill="none"/>
<path d="M414.36 697.7h4.6" stroke="#555" stroke-width=".9" fill="none"/>
<path d="M445.11 697.7h4.6" stroke="#555" stroke-width=".9" fill="none"/>
<path d="M475.86 697.7h4.6" stroke="#555" stroke-width=".9" fill="none"/>
<path d="M506.61 697.7h4.6" stroke="#555" stroke-width=".9" fill="none"/>
<path d="M537.37 697.7h4.6" stroke="#555" stroke-width=".9" fill="none"/>
<path d="M568.12 697.7h4.6" stroke="#555" stroke-width=".9" fill="none"/>
<path d="M598.87 697.7h4.6" stroke="#555" stroke-width=".9" fill="none"/>
<path d="M629.62 697.7h4.6" stroke="#555" stroke-width=".9" fill="none"/>
<text class="tt" x="16.88" y="720.4" font-size="10.8" text-anchor="middle" textLength="15.15" lengthAdjust="spacingAndGlyphs">150</text>
<path d="M45.33 716.8h4.6" stroke="#555" stroke-width=".9" fill="none"/>
<path d="M76.08 716.8h4.6" stroke="#555" stroke-width=".9" fill="none"/>
<text class="tt" x="109.13" y="720.4" font-size="10.8" text-anchor="middle" textLength="15.15" lengthAdjust="spacingAndGlyphs">260</text>
<text class="tt" x="139.89" y="720.4" font-size="10.8" text-anchor="middle" textLength="15.15" lengthAdjust="spacingAndGlyphs">333</text>
<path d="M168.34 716.8h4.6" stroke="#555" stroke-width=".9" fill="none"/>
<path d="M199.09 716.8h4.6" stroke="#555" stroke-width=".9" fill="none"/>
<text class="tt" x="232.14" y="720.4" font-size="10.8" text-anchor="middle" textLength="15.15" lengthAdjust="spacingAndGlyphs">278</text>
<text class="tt" x="262.9" y="720.4" font-size="10.8" text-anchor="middle" textLength="15.15" lengthAdjust="spacingAndGlyphs">351</text>
<path d="M291.35 716.8h4.6" stroke="#555" stroke-width=".9" fill="none"/>
<path d="M322.1 716.8h4.6" stroke="#555" stroke-width=".9" fill="none"/>
<path d="M352.85 716.8h4.6" stroke="#555" stroke-width=".9" fill="none"/>
<path d="M383.6 716.8h4.6" stroke="#555" stroke-width=".9" fill="none"/>
<text class="tt" x="416.66" y="720.4" font-size="10.8" text-anchor="middle" textLength="15.15" lengthAdjust="spacingAndGlyphs">308</text>
<text class="tt" x="447.41" y="720.4" font-size="10.8" text-anchor="middle" textLength="15.15" lengthAdjust="spacingAndGlyphs">381</text>
<text class="tt" x="478.16" y="720.4" font-size="10.8" text-anchor="middle" textLength="15.15" lengthAdjust="spacingAndGlyphs">332</text>
<text class="tt" x="508.91" y="720.4" font-size="10.8" text-anchor="middle" textLength="15.15" lengthAdjust="spacingAndGlyphs">405</text>
<text class="tt" x="539.67" y="720.4" font-size="10.8" text-anchor="middle" textLength="15.15" lengthAdjust="spacingAndGlyphs">308</text>
<text class="tt" x="570.42" y="720.4" font-size="10.8" text-anchor="middle" textLength="15.15" lengthAdjust="spacingAndGlyphs">381</text>
<text class="tt" x="601.17" y="720.4" font-size="10.8" text-anchor="middle" textLength="15.15" lengthAdjust="spacingAndGlyphs">332</text>
<text class="tt" x="631.92" y="720.4" font-size="10.8" text-anchor="middle" textLength="15.15" lengthAdjust="spacingAndGlyphs">405</text>
<text class="tt" x="16.88" y="739.55" font-size="10.8" text-anchor="middle" textLength="15.15" lengthAdjust="spacingAndGlyphs">180</text>
<path d="M45.33 735.95h4.6" stroke="#555" stroke-width=".9" fill="none"/>
<path d="M76.08 735.95h4.6" stroke="#555" stroke-width=".9" fill="none"/>
<path d="M106.83 735.95h4.6" stroke="#555" stroke-width=".9" fill="none"/>
<path d="M137.59 735.95h4.6" stroke="#555" stroke-width=".9" fill="none"/>
<text class="tt" x="170.64" y="739.55" font-size="10.8" text-anchor="middle" textLength="15.15" lengthAdjust="spacingAndGlyphs">256</text>
<text class="tt" x="201.39" y="739.55" font-size="10.8" text-anchor="middle" textLength="15.15" lengthAdjust="spacingAndGlyphs">328</text>
<path d="M229.84 735.95h4.6" stroke="#555" stroke-width=".9" fill="none"/>
<path d="M260.6 735.95h4.6" stroke="#555" stroke-width=".9" fill="none"/>
<text class="tt" x="293.65" y="739.55" font-size="10.8" text-anchor="middle" textLength="15.15" lengthAdjust="spacingAndGlyphs">252</text>
<text class="tt" x="324.4" y="739.55" font-size="10.8" text-anchor="middle" textLength="15.15" lengthAdjust="spacingAndGlyphs">334</text>
<text class="tt" x="355.15" y="739.55" font-size="10.8" text-anchor="middle" textLength="15.15" lengthAdjust="spacingAndGlyphs">273</text>
<text class="tt" x="385.9" y="739.55" font-size="10.8" text-anchor="middle" textLength="15.15" lengthAdjust="spacingAndGlyphs">345</text>
<path d="M414.36 735.95h4.6" stroke="#555" stroke-width=".9" fill="none"/>
<path d="M445.11 735.95h4.6" stroke="#555" stroke-width=".9" fill="none"/>
<text class="tt" x="478.16" y="739.55" font-size="10.8" text-anchor="middle" textLength="15.15" lengthAdjust="spacingAndGlyphs">292</text>
<text class="tt" x="508.91" y="739.55" font-size="10.8" text-anchor="middle" textLength="15.15" lengthAdjust="spacingAndGlyphs">364</text>
<text class="tt" x="539.67" y="739.55" font-size="10.8" text-anchor="middle" textLength="15.15" lengthAdjust="spacingAndGlyphs">322</text>
<text class="tt" x="570.42" y="739.55" font-size="10.8" text-anchor="middle" textLength="15.15" lengthAdjust="spacingAndGlyphs">394</text>
<text class="tt" x="601.17" y="739.55" font-size="10.8" text-anchor="middle" textLength="15.15" lengthAdjust="spacingAndGlyphs">376</text>
<text class="tt" x="631.92" y="739.55" font-size="10.8" text-anchor="middle" textLength="15.15" lengthAdjust="spacingAndGlyphs">448</text>
<g transform="translate(2 0) scale(1.0013 1) translate(-2 0)"><text class="ft" x="2" y="764.2" font-size="11.6" xml:space="preserve">AB</text><text class="cj" x="17.5" y="764.2" font-size="11.1" textLength="55.5">：不带抱闸</text><text class="ft" x="73.47" y="764.2" font-size="11.6" xml:space="preserve"> / Without brake</text></g>
<g transform="translate(190.3 0) scale(0.9990 1) translate(-190.3 0)"><text class="ft" x="190.3" y="764.2" font-size="11.6" xml:space="preserve">AB1</text><text class="cj" x="212.2" y="764.2" font-size="11.1" textLength="44.4">：带抱闸</text><text class="ft" x="257.03" y="764.2" font-size="11.6" xml:space="preserve"> / With brake</text></g>
<g transform="translate(357.5 0) scale(1.0048 1) translate(-357.5 0)"><text class="ft" x="357.5" y="764.2" font-size="11.6" xml:space="preserve">M006</text><text class="cj" x="386.5" y="764.2" font-size="11.1" textLength="88.8">：伺服电机的扭矩</text><text class="ft" x="476.12" y="764.2" font-size="11.6" xml:space="preserve"> ( 0.6N·m) / Servo motor(0.6N·m)</text></g>
<g transform="translate(1.3 0) scale(0.9920 1) translate(-1.3 0)"><text class="cj" x="1.3" y="781" font-size="11.1" textLength="88.8">注：其余尺寸参考</text><text class="ft" x="90.9" y="781" font-size="11.6" xml:space="preserve"> BKM..MV..</text><text class="cj" x="149.6" y="781" font-size="11.1" textLength="44.4">外形尺寸</text></g>
<g transform="translate(212.8 0) scale(1.0106 1) translate(-212.8 0)"><text class="ft" x="212.8" y="781" font-size="11.6" xml:space="preserve">Note:The remaining size refer BKM..MV.. outline dimension</text></g>
<rect class="blk" x="0" y="795.6" width="649" height="3.4" />
<style>.blk{fill:#000}</style>
</svg>
</body></html>
